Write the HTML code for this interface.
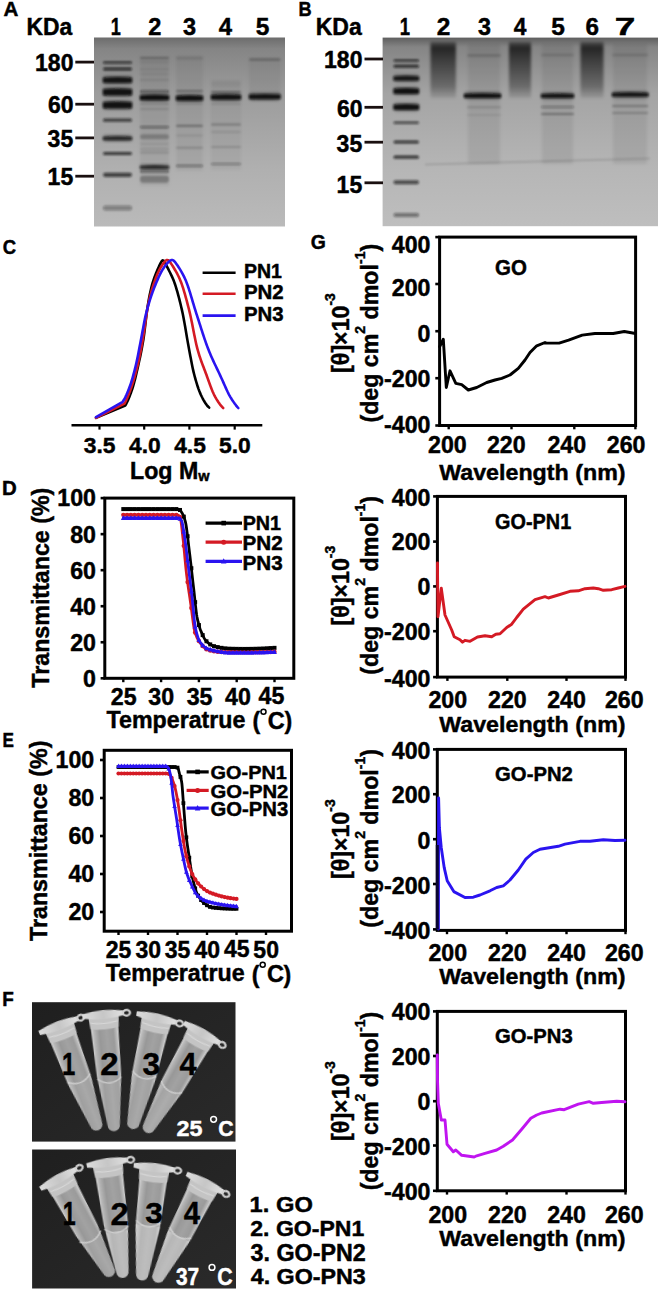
<!DOCTYPE html>
<html><head><meta charset="utf-8"><style>
html,body{margin:0;padding:0;background:#fff;}
svg{display:block;}
text{font-family:"Liberation Sans",sans-serif;font-weight:bold;stroke:#000;stroke-width:0.45px;}
</style></head><body>
<svg width="660" height="1291" viewBox="0 0 660 1291">
<rect width="660" height="1291" fill="#fff"/>
<defs>
<filter id="bl" x="-20%" y="-200%" width="140%" height="500%"><feGaussianBlur stdDeviation="0.95"/></filter>
<filter id="bl2" x="-20%" y="-50%" width="140%" height="200%"><feGaussianBlur stdDeviation="2.2"/></filter>
<filter id="bl3" x="-30%" y="-30%" width="160%" height="160%"><feGaussianBlur stdDeviation="1.5"/></filter>
<filter id="bl4" x="-40%" y="-40%" width="180%" height="180%"><feGaussianBlur stdDeviation="2.6"/></filter>
<linearGradient id="gelA" x1="0" y1="0" x2="0" y2="1">
<stop offset="0" stop-color="#6c6c6c"/><stop offset="0.06" stop-color="#858585"/><stop offset="0.3" stop-color="#9c9c9c"/><stop offset="0.7" stop-color="#b0b0b0"/><stop offset="1" stop-color="#bababa"/></linearGradient>
<linearGradient id="gelB" x1="0" y1="0" x2="0" y2="1">
<stop offset="0" stop-color="#5e5e5e"/><stop offset="0.05" stop-color="#858585"/><stop offset="0.3" stop-color="#a4a4a4"/><stop offset="0.7" stop-color="#b6b6b6"/><stop offset="1" stop-color="#bebebe"/></linearGradient>
<linearGradient id="smear" x1="0" y1="0" x2="0" y2="1">
<stop offset="0" stop-color="#000" stop-opacity="0.35"/><stop offset="0.1" stop-color="#000" stop-opacity="0.72"/><stop offset="0.35" stop-color="#000" stop-opacity="0.55"/><stop offset="0.8" stop-color="#000" stop-opacity="0.32"/><stop offset="1" stop-color="#000" stop-opacity="0.08"/></linearGradient>
</defs>
<rect x="94" y="37.5" width="191" height="189" fill="url(#gelA)"/>
<rect x="103.0" y="61.5" width="29.0" height="2.2" rx="1.1" fill="#111" fill-opacity="0.78" filter="url(#bl)"/>
<rect x="103.0" y="67.5" width="29.0" height="3.0" rx="1.5" fill="#111" fill-opacity="0.78" filter="url(#bl)"/>
<rect x="102.5" y="75.5" width="30.0" height="9.0" rx="4.0" fill="#111" fill-opacity="0.3" filter="url(#bl3)"/><path d="M103.0,77.8 Q117.5,76.4 132.0,77.8 L132.0,82.7 Q117.5,83.3 103.0,82.7 Z" fill="#111" fill-opacity="0.92" filter="url(#bl)"/>
<rect x="102.5" y="87.0" width="30.0" height="10.0" rx="4.0" fill="#111" fill-opacity="0.3" filter="url(#bl3)"/><path d="M103.0,89.3 Q117.5,87.9 132.0,89.3 L132.0,95.2 Q117.5,95.8 103.0,95.2 Z" fill="#111" fill-opacity="0.95" filter="url(#bl)"/>
<rect x="102.5" y="100.0" width="30.0" height="10.0" rx="4.0" fill="#111" fill-opacity="0.3" filter="url(#bl3)"/><path d="M103.0,102.3 Q117.5,100.9 132.0,102.3 L132.0,108.2 Q117.5,108.8 103.0,108.2 Z" fill="#111" fill-opacity="0.95" filter="url(#bl)"/>
<rect x="103.0" y="118.6" width="29.0" height="3.2" rx="1.6" fill="#111" fill-opacity="0.7" filter="url(#bl)"/>
<rect x="102.5" y="134.7" width="30.0" height="7.0" rx="3.5" fill="#111" fill-opacity="0.3" filter="url(#bl3)"/><path d="M103.0,137.0 Q117.5,135.6 132.0,137.0 L132.0,139.9 Q117.5,140.5 103.0,139.9 Z" fill="#111" fill-opacity="0.8" filter="url(#bl)"/>
<rect x="103.0" y="151.9" width="29.0" height="3.2" rx="1.6" fill="#111" fill-opacity="0.75" filter="url(#bl)"/>
<rect x="103.0" y="172.7" width="29.0" height="4.2" rx="2.1" fill="#111" fill-opacity="0.7" filter="url(#bl)"/>
<rect x="103.0" y="205.5" width="29.0" height="5.0" rx="2.5" fill="#111" fill-opacity="0.35" filter="url(#bl)"/>
<rect x="140" y="56" width="29" height="130" fill="#000" fill-opacity="0.06" filter="url(#bl3)"/>
<rect x="140.0" y="57.2" width="29.0" height="1.5" rx="0.8" fill="#111" fill-opacity="0.3" filter="url(#bl)"/>
<rect x="140.0" y="61.4" width="29.0" height="1.2" rx="0.6" fill="#111" fill-opacity="0.12" filter="url(#bl)"/>
<rect x="140.0" y="68.8" width="29.0" height="1.2" rx="0.6" fill="#111" fill-opacity="0.12" filter="url(#bl)"/>
<rect x="140.0" y="73.4" width="29.0" height="1.2" rx="0.6" fill="#111" fill-opacity="0.12" filter="url(#bl)"/>
<rect x="140.0" y="79.2" width="29.0" height="1.5" rx="0.8" fill="#111" fill-opacity="0.12" filter="url(#bl)"/>
<rect x="140.0" y="89.9" width="29.0" height="3.0" rx="1.5" fill="#111" fill-opacity="0.4" filter="url(#bl)"/>
<rect x="139.5" y="93.2" width="30.0" height="8.5" rx="4.0" fill="#111" fill-opacity="0.3" filter="url(#bl3)"/><path d="M140.0,95.5 Q154.5,94.1 169.0,95.5 L169.0,99.9 Q154.5,100.5 140.0,99.9 Z" fill="#111" fill-opacity="0.97" filter="url(#bl)"/>
<rect x="140.0" y="103.0" width="29.0" height="2.0" rx="1.0" fill="#111" fill-opacity="0.12" filter="url(#bl)"/>
<rect x="140.0" y="108.0" width="29.0" height="2.0" rx="1.0" fill="#111" fill-opacity="0.12" filter="url(#bl)"/>
<rect x="140.0" y="126.0" width="29.0" height="2.2" rx="1.1" fill="#111" fill-opacity="0.45" filter="url(#bl)"/>
<rect x="140.0" y="134.3" width="29.0" height="5.0" rx="2.5" fill="#111" fill-opacity="0.22" filter="url(#bl)"/>
<rect x="140.0" y="143.0" width="29.0" height="2.0" rx="1.0" fill="#111" fill-opacity="0.08" filter="url(#bl)"/>
<rect x="140.0" y="148.0" width="29.0" height="2.0" rx="1.0" fill="#111" fill-opacity="0.1" filter="url(#bl)"/>
<rect x="140.0" y="151.6" width="29.0" height="2.0" rx="1.0" fill="#111" fill-opacity="0.15" filter="url(#bl)"/>
<rect x="139.5" y="164.0" width="30.0" height="6.2" rx="3.1" fill="#111" fill-opacity="0.3" filter="url(#bl3)"/><path d="M140.0,166.3 Q154.5,164.9 169.0,166.3 L169.0,168.4 Q154.5,169.0 140.0,168.4 Z" fill="#111" fill-opacity="0.85" filter="url(#bl)"/>
<rect x="140.0" y="169.9" width="29.0" height="3.0" rx="1.5" fill="#111" fill-opacity="0.4" filter="url(#bl)"/>
<rect x="140.0" y="175.7" width="29.0" height="7.0" rx="3.0" fill="#111" fill-opacity="0.28" filter="url(#bl)"/>
<rect x="176" y="56" width="27" height="115" fill="#000" fill-opacity="0.05" filter="url(#bl3)"/>
<rect x="176.0" y="56.5" width="27.0" height="3.0" rx="1.5" fill="#111" fill-opacity="0.1" filter="url(#bl)"/>
<rect x="176.0" y="90.0" width="27.0" height="2.0" rx="1.0" fill="#111" fill-opacity="0.3" filter="url(#bl)"/>
<rect x="175.5" y="93.8" width="28.0" height="8.5" rx="4.0" fill="#111" fill-opacity="0.3" filter="url(#bl3)"/><path d="M176.0,96.0 Q189.5,94.7 203.0,96.0 L203.0,100.5 Q189.5,101.0 176.0,100.5 Z" fill="#111" fill-opacity="0.97" filter="url(#bl)"/>
<rect x="176.0" y="103.0" width="27.0" height="2.0" rx="1.0" fill="#111" fill-opacity="0.1" filter="url(#bl)"/>
<rect x="176.0" y="124.8" width="27.0" height="2.2" rx="1.1" fill="#111" fill-opacity="0.3" filter="url(#bl)"/>
<rect x="176.0" y="134.6" width="27.0" height="2.0" rx="1.0" fill="#111" fill-opacity="0.1" filter="url(#bl)"/>
<rect x="176.0" y="146.7" width="27.0" height="2.0" rx="1.0" fill="#111" fill-opacity="0.18" filter="url(#bl)"/>
<rect x="176.0" y="164.8" width="27.0" height="2.2" rx="1.1" fill="#111" fill-opacity="0.4" filter="url(#bl)"/>
<rect x="211" y="80" width="30" height="90" fill="#000" fill-opacity="0.04" filter="url(#bl3)"/>
<rect x="211.0" y="81.0" width="30.0" height="6.0" rx="3.0" fill="#111" fill-opacity="0.04" filter="url(#bl)"/>
<rect x="211.0" y="91.0" width="30.0" height="2.0" rx="1.0" fill="#111" fill-opacity="0.3" filter="url(#bl)"/>
<rect x="210.5" y="92.8" width="31.0" height="8.5" rx="4.0" fill="#111" fill-opacity="0.3" filter="url(#bl3)"/><path d="M211.0,95.0 Q226.0,93.7 241.0,95.0 L241.0,99.5 Q226.0,100.0 211.0,99.5 Z" fill="#111" fill-opacity="0.95" filter="url(#bl)"/>
<rect x="211.0" y="103.0" width="30.0" height="2.0" rx="1.0" fill="#111" fill-opacity="0.1" filter="url(#bl)"/>
<rect x="211.0" y="123.5" width="30.0" height="2.0" rx="1.0" fill="#111" fill-opacity="0.25" filter="url(#bl)"/>
<rect x="211.0" y="131.0" width="30.0" height="2.0" rx="1.0" fill="#111" fill-opacity="0.1" filter="url(#bl)"/>
<rect x="211.0" y="146.0" width="30.0" height="2.0" rx="1.0" fill="#111" fill-opacity="0.15" filter="url(#bl)"/>
<rect x="211.0" y="162.9" width="30.0" height="2.2" rx="1.1" fill="#111" fill-opacity="0.35" filter="url(#bl)"/>
<rect x="249" y="58" width="31.5" height="40" fill="#000" fill-opacity="0.05" filter="url(#bl3)"/>
<rect x="249.0" y="58.0" width="31.5" height="3.0" rx="1.5" fill="#111" fill-opacity="0.2" filter="url(#bl)"/>
<rect x="248.5" y="92.3" width="32.5" height="8.5" rx="4.0" fill="#111" fill-opacity="0.3" filter="url(#bl3)"/><path d="M249.0,94.6 Q264.8,93.2 280.5,94.6 L280.5,99.0 Q264.8,99.6 249.0,99.0 Z" fill="#111" fill-opacity="0.95" filter="url(#bl)"/>
<rect x="382.6" y="37.6" width="275.4" height="188.6" fill="url(#gelB)"/>
<rect x="393.5" y="59.5" width="25.5" height="2.2" rx="1.1" fill="#111" fill-opacity="0.78" filter="url(#bl)"/>
<rect x="393.5" y="64.8" width="25.5" height="3.0" rx="1.5" fill="#111" fill-opacity="0.78" filter="url(#bl)"/>
<rect x="393.0" y="74.2" width="26.5" height="8.0" rx="4.0" fill="#111" fill-opacity="0.3" filter="url(#bl3)"/><path d="M393.5,76.5 Q406.2,75.1 419.0,76.5 L419.0,80.4 Q406.2,81.0 393.5,80.4 Z" fill="#111" fill-opacity="0.9" filter="url(#bl)"/>
<rect x="393.0" y="86.5" width="26.5" height="9.0" rx="4.0" fill="#111" fill-opacity="0.3" filter="url(#bl3)"/><path d="M393.5,88.8 Q406.2,87.4 419.0,88.8 L419.0,93.7 Q406.2,94.3 393.5,93.7 Z" fill="#111" fill-opacity="0.95" filter="url(#bl)"/>
<rect x="393.0" y="102.5" width="26.5" height="9.0" rx="4.0" fill="#111" fill-opacity="0.3" filter="url(#bl3)"/><path d="M393.5,104.8 Q406.2,103.4 419.0,104.8 L419.0,109.7 Q406.2,110.3 393.5,109.7 Z" fill="#111" fill-opacity="0.95" filter="url(#bl)"/>
<rect x="393.5" y="121.5" width="25.5" height="2.5" rx="1.2" fill="#111" fill-opacity="0.65" filter="url(#bl)"/>
<rect x="393.5" y="140.4" width="25.5" height="3.2" rx="1.6" fill="#111" fill-opacity="0.75" filter="url(#bl)"/>
<rect x="393.5" y="155.6" width="25.5" height="3.2" rx="1.6" fill="#111" fill-opacity="0.75" filter="url(#bl)"/>
<rect x="393.5" y="180.3" width="25.5" height="4.0" rx="2.0" fill="#111" fill-opacity="0.65" filter="url(#bl)"/>
<rect x="393.5" y="213.0" width="25.5" height="4.0" rx="2.0" fill="#111" fill-opacity="0.45" filter="url(#bl)"/>
<rect x="430.5" y="42" width="25.399999999999977" height="56" fill="url(#smear)" filter="url(#bl3)"/>
<rect x="509.0" y="42" width="22.0" height="56" fill="url(#smear)" filter="url(#bl3)"/>
<rect x="580.5" y="42" width="23" height="56" fill="url(#smear)" filter="url(#bl3)"/>
<rect x="468" y="44" width="32" height="120" fill="#000" fill-opacity="0.07" filter="url(#bl3)"/>
<rect x="467.0" y="54.0" width="34.0" height="3.0" rx="1.5" fill="#111" fill-opacity="0.15" filter="url(#bl)"/>
<rect x="463.5" y="91.6" width="38.0" height="8.0" rx="4.0" fill="#111" fill-opacity="0.3" filter="url(#bl3)"/><path d="M464.0,93.9 Q482.5,92.5 501.0,93.9 L501.0,97.8 Q482.5,98.4 464.0,97.8 Z" fill="#111" fill-opacity="0.97" filter="url(#bl)"/>
<rect x="467.0" y="106.3" width="34.0" height="2.0" rx="1.0" fill="#111" fill-opacity="0.15" filter="url(#bl)"/>
<rect x="467.0" y="114.0" width="34.0" height="2.0" rx="1.0" fill="#111" fill-opacity="0.08" filter="url(#bl)"/>
<rect x="542" y="44" width="31" height="120" fill="#000" fill-opacity="0.07" filter="url(#bl3)"/>
<rect x="541.0" y="53.5" width="33.0" height="3.0" rx="1.5" fill="#111" fill-opacity="0.12" filter="url(#bl)"/>
<rect x="540.5" y="92.0" width="34.0" height="7.5" rx="3.8" fill="#111" fill-opacity="0.3" filter="url(#bl3)"/><path d="M541.0,94.2 Q557.5,92.9 574.0,94.2 L574.0,97.7 Q557.5,98.2 541.0,97.7 Z" fill="#111" fill-opacity="0.93" filter="url(#bl)"/>
<rect x="541.0" y="106.0" width="33.0" height="2.0" rx="1.0" fill="#111" fill-opacity="0.35" filter="url(#bl)"/>
<rect x="541.0" y="113.0" width="33.0" height="2.0" rx="1.0" fill="#111" fill-opacity="0.3" filter="url(#bl)"/>
<rect x="613" y="44" width="34" height="120" fill="#000" fill-opacity="0.07" filter="url(#bl3)"/>
<rect x="612.0" y="53.5" width="36.4" height="3.0" rx="1.5" fill="#111" fill-opacity="0.12" filter="url(#bl)"/>
<rect x="611.5" y="90.8" width="37.4" height="7.5" rx="3.8" fill="#111" fill-opacity="0.3" filter="url(#bl3)"/><path d="M612.0,93.0 Q630.2,91.7 648.4,93.0 L648.4,96.5 Q630.2,97.0 612.0,96.5 Z" fill="#111" fill-opacity="0.93" filter="url(#bl)"/>
<rect x="612.0" y="105.0" width="36.4" height="2.0" rx="1.0" fill="#111" fill-opacity="0.25" filter="url(#bl)"/>
<rect x="612.0" y="112.0" width="36.4" height="2.0" rx="1.0" fill="#111" fill-opacity="0.2" filter="url(#bl)"/>
<path d="M425,164.5 L650,158.5" stroke="#000" stroke-opacity="0.15" stroke-width="1.6" fill="none" filter="url(#bl)"/>
<text transform="translate(3.90,15.90) scale(1.041,1)" x="-0.49" font-size="19.78" fill="#000" >A</text>
<text transform="translate(28.00,34.97) scale(0.979,1)" x="-1.58" font-size="23.37" fill="#000" >KDa</text>
<text transform="translate(111.80,35.10) scale(0.735,1)" x="-1.54" font-size="24.58" fill="#000" >1</text>
<text transform="translate(149.10,35.10) scale(0.975,1)" x="-0.85" font-size="24.23" fill="#000" >2</text>
<text transform="translate(183.50,34.80) scale(0.988,1)" x="-0.54" font-size="23.80" fill="#000" >3</text>
<text transform="translate(219.00,35.10) scale(0.973,1)" x="-0.37" font-size="24.58" fill="#000" >4</text>
<text transform="translate(256.40,34.86) scale(1.012,1)" x="-0.73" font-size="24.23" fill="#000" >5</text>
<text x="35.07" y="71.22" font-size="23.0" fill="#000">180</text>
<line x1="75.30" y1="62.10" x2="94.00" y2="62.10" stroke="#1a1010" stroke-width="2.8" stroke-linecap="butt"/>
<text x="47.89" y="113.02" font-size="23.0" fill="#000">60</text>
<line x1="75.30" y1="104.20" x2="94.00" y2="104.20" stroke="#1a1010" stroke-width="2.8" stroke-linecap="butt"/>
<text x="47.60" y="146.72" font-size="23.0" fill="#000">35</text>
<line x1="75.30" y1="137.90" x2="94.00" y2="137.90" stroke="#1a1010" stroke-width="2.8" stroke-linecap="butt"/>
<text x="47.60" y="184.91" font-size="23.0" fill="#000">15</text>
<line x1="75.30" y1="176.20" x2="94.00" y2="176.20" stroke="#1a1010" stroke-width="2.8" stroke-linecap="butt"/>
<text transform="translate(299.80,15.90) scale(0.900,1)" x="-1.36" font-size="20.22" fill="#000" >B</text>
<text transform="translate(317.20,35.06) scale(0.968,1)" x="-1.61" font-size="23.80" fill="#000" >KDa</text>
<text transform="translate(400.90,35.10) scale(0.752,1)" x="-1.54" font-size="24.58" fill="#000" >1</text>
<text transform="translate(437.70,35.10) scale(1.009,1)" x="-0.85" font-size="24.23" fill="#000" >2</text>
<text transform="translate(478.60,34.80) scale(0.980,1)" x="-0.54" font-size="23.80" fill="#000" >3</text>
<text transform="translate(514.00,35.10) scale(0.928,1)" x="-0.37" font-size="24.58" fill="#000" >4</text>
<text transform="translate(552.00,34.86) scale(1.012,1)" x="-0.73" font-size="24.23" fill="#000" >5</text>
<text transform="translate(586.50,34.86) scale(1.015,1)" x="-0.90" font-size="23.89" fill="#000" >6</text>
<text transform="translate(616.40,35.10) scale(1.506,1)" x="-1.04" font-size="24.58" fill="#000" >7</text>
<text x="324.07" y="68.12" font-size="23.0" fill="#000">180</text>
<line x1="364.50" y1="59.00" x2="383.00" y2="59.00" stroke="#1a1010" stroke-width="2.8" stroke-linecap="butt"/>
<text x="336.89" y="116.62" font-size="23.0" fill="#000">60</text>
<line x1="364.50" y1="107.30" x2="383.00" y2="107.30" stroke="#1a1010" stroke-width="2.8" stroke-linecap="butt"/>
<text x="336.60" y="151.52" font-size="23.0" fill="#000">35</text>
<line x1="364.50" y1="142.20" x2="383.00" y2="142.20" stroke="#1a1010" stroke-width="2.8" stroke-linecap="butt"/>
<text x="336.60" y="192.61" font-size="23.0" fill="#000">15</text>
<line x1="364.50" y1="182.80" x2="383.00" y2="182.80" stroke="#1a1010" stroke-width="2.8" stroke-linecap="butt"/>
<text transform="translate(3.60,253.50) scale(0.927,1)" x="-0.80" font-size="19.93" fill="#000" >C</text>
<line x1="71.50" y1="425.20" x2="262.30" y2="425.20" stroke="#000" stroke-width="2.6" stroke-linecap="butt"/>
<line x1="99.50" y1="425.00" x2="99.50" y2="429.60" stroke="#000" stroke-width="2.2" stroke-linecap="butt"/>
<line x1="144.20" y1="425.00" x2="144.20" y2="429.60" stroke="#000" stroke-width="2.2" stroke-linecap="butt"/>
<line x1="189.40" y1="425.00" x2="189.40" y2="429.60" stroke="#000" stroke-width="2.2" stroke-linecap="butt"/>
<line x1="234.70" y1="425.00" x2="234.70" y2="429.60" stroke="#000" stroke-width="2.2" stroke-linecap="butt"/>
<text x="83.71" y="453.10" font-size="22.8" fill="#000">3.5</text>
<text x="129.04" y="453.10" font-size="22.8" fill="#000">4.0</text>
<text x="174.20" y="452.88" font-size="22.8" fill="#000">4.5</text>
<text x="218.97" y="453.10" font-size="22.8" fill="#000">5.0</text>
<text x="130" y="478.8" font-size="23.2">Log M<tspan font-size="14.5" dy="2.6">w</tspan></text>
<path d="M96.00,417.80 L125.20,405.50 L126.25,403.72 L127.14,401.98 L127.98,400.18 L128.77,398.35 L129.52,396.49 L130.23,394.62 L130.92,392.74 L131.58,390.85 L132.22,388.96 L132.84,387.05 L133.42,385.14 L133.96,383.21 L134.48,381.28 L134.98,379.34 L135.46,377.40 L135.93,375.45 L136.39,373.50 L136.84,371.55 L137.28,369.60 L137.73,367.65 L138.16,365.69 L138.60,363.74 L139.03,361.79 L139.46,359.83 L139.89,357.88 L140.31,355.92 L140.71,353.96 L141.11,352.00 L141.50,350.03 L141.87,348.07 L142.24,346.10 L142.59,344.13 L142.93,342.15 L143.25,340.18 L143.56,338.20 L143.85,336.22 L144.12,334.24 L144.37,332.25 L144.62,330.26 L144.87,328.28 L145.10,326.29 L145.34,324.30 L145.57,322.31 L145.81,320.33 L146.04,318.34 L146.29,316.35 L146.53,314.36 L146.79,312.38 L147.06,310.40 L147.34,308.41 L147.65,306.44 L147.97,304.46 L148.31,302.49 L148.66,300.52 L149.02,298.55 L149.40,296.58 L149.78,294.62 L150.19,292.66 L150.62,290.70 L151.07,288.75 L151.55,286.81 L152.06,284.88 L152.62,282.95 L153.21,281.04 L153.84,279.14 L154.51,277.26 L155.21,275.38 L155.95,273.52 L156.70,271.67 L157.48,269.82 L158.28,267.99 L159.10,266.16 L159.96,264.35 L160.85,262.60 L161.78,261.09 L162.74,260.35 L163.70,260.80 L164.64,262.16 L165.57,263.87 L166.49,265.64 L167.40,267.42 L168.31,269.21 L169.23,270.99 L170.14,272.77 L171.04,274.56 L171.90,276.36 L172.72,278.19 L173.48,280.04 L174.18,281.91 L174.85,283.80 L175.48,285.70 L176.09,287.60 L176.67,289.52 L177.23,291.44 L177.77,293.37 L178.30,295.30 L178.81,297.23 L179.31,299.17 L179.80,301.11 L180.28,303.06 L180.75,305.00 L181.21,306.95 L181.67,308.90 L182.11,310.85 L182.53,312.81 L182.94,314.77 L183.33,316.73 L183.70,318.70 L184.07,320.67 L184.42,322.64 L184.77,324.61 L185.12,326.58 L185.45,328.55 L185.79,330.53 L186.12,332.50 L186.46,334.47 L186.79,336.45 L187.13,338.42 L187.47,340.39 L187.81,342.37 L188.16,344.34 L188.52,346.31 L188.88,348.28 L189.25,350.24 L189.62,352.21 L189.99,354.18 L190.36,356.15 L190.73,358.11 L191.10,360.08 L191.48,362.05 L191.86,364.01 L192.25,365.97 L192.66,367.93 L193.09,369.89 L193.54,371.84 L194.01,373.78 L194.52,375.72 L195.04,377.65 L195.58,379.58 L196.14,381.50 L196.72,383.42 L197.31,385.33 L197.94,387.23 L198.59,389.12 L199.29,391.00 L200.03,392.86 L200.83,394.69 L201.69,396.50 L202.60,398.28 L203.56,400.04 L204.56,401.76 L205.64,403.44 L206.78,405.05 L208.03,406.55 L209.20,407.60" fill="none" stroke="#000" stroke-width="2.6" stroke-linejoin="round" stroke-linecap="round" />
<path d="M96.00,417.80 L124.50,403.60 L125.46,401.77 L126.30,400.01 L127.12,398.20 L127.90,396.36 L128.66,394.50 L129.39,392.64 L130.09,390.76 L130.77,388.88 L131.44,386.99 L132.09,385.10 L132.71,383.20 L133.31,381.29 L133.89,379.37 L134.46,377.45 L135.00,375.52 L135.52,373.59 L136.04,371.66 L136.54,369.72 L137.02,367.78 L137.50,365.83 L137.96,363.88 L138.41,361.93 L138.84,359.98 L139.26,358.02 L139.67,356.06 L140.07,354.10 L140.45,352.13 L140.83,350.17 L141.20,348.20 L141.57,346.23 L141.93,344.26 L142.29,342.29 L142.63,340.32 L142.97,338.35 L143.29,336.37 L143.61,334.39 L143.91,332.41 L144.20,330.43 L144.49,328.45 L144.78,326.47 L145.06,324.49 L145.34,322.51 L145.63,320.52 L145.91,318.54 L146.20,316.56 L146.50,314.58 L146.80,312.60 L147.12,310.63 L147.45,308.65 L147.80,306.68 L148.18,304.71 L148.58,302.75 L149.01,300.80 L149.46,298.85 L149.93,296.90 L150.41,294.96 L150.92,293.02 L151.46,291.09 L152.02,289.17 L152.61,287.26 L153.23,285.36 L153.87,283.46 L154.53,281.57 L155.21,279.69 L155.92,277.81 L156.65,275.95 L157.42,274.10 L158.24,272.27 L159.10,270.47 L160.03,268.70 L161.03,266.97 L162.09,265.27 L163.21,263.62 L164.41,262.04 L165.69,260.68 L167.03,259.93 L168.32,260.21 L169.54,261.37 L170.68,262.94 L171.78,264.60 L172.85,266.30 L173.89,268.00 L174.91,269.73 L175.91,271.46 L176.89,273.21 L177.82,274.98 L178.71,276.77 L179.55,278.59 L180.33,280.43 L181.07,282.29 L181.76,284.17 L182.41,286.06 L183.03,287.97 L183.63,289.88 L184.20,291.79 L184.77,293.71 L185.31,295.64 L185.85,297.57 L186.38,299.50 L186.90,301.44 L187.41,303.37 L187.91,305.31 L188.41,307.25 L188.91,309.19 L189.39,311.13 L189.86,313.08 L190.30,315.03 L190.73,316.98 L191.14,318.94 L191.55,320.90 L191.94,322.87 L192.33,324.83 L192.72,326.80 L193.10,328.76 L193.48,330.73 L193.87,332.69 L194.26,334.65 L194.65,336.62 L195.05,338.58 L195.46,340.54 L195.88,342.50 L196.32,344.45 L196.79,346.40 L197.28,348.34 L197.80,350.27 L198.36,352.19 L198.94,354.11 L199.54,356.02 L200.17,357.92 L200.82,359.81 L201.49,361.70 L202.18,363.58 L202.88,365.45 L203.59,367.33 L204.30,369.20 L205.01,371.07 L205.72,372.94 L206.42,374.82 L207.10,376.70 L207.78,378.58 L208.45,380.47 L209.13,382.35 L209.81,384.24 L210.49,386.12 L211.20,387.99 L211.93,389.85 L212.70,391.70 L213.52,393.53 L214.40,395.32 L215.34,397.09 L216.33,398.83 L217.37,400.54 L218.45,402.22 L219.59,403.86 L220.79,405.43 L222.07,406.91 L223.20,408.00" fill="none" stroke="#d41a24" stroke-width="2.6" stroke-linejoin="round" stroke-linecap="round" />
<path d="M96.00,417.20 L122.70,401.80 L123.80,400.05 L124.74,398.34 L125.63,396.56 L126.47,394.75 L127.27,392.92 L128.04,391.07 L128.77,389.20 L129.49,387.33 L130.17,385.45 L130.82,383.56 L131.44,381.66 L132.03,379.74 L132.59,377.82 L133.13,375.89 L133.65,373.96 L134.16,372.02 L134.66,370.08 L135.14,368.14 L135.61,366.19 L136.07,364.25 L136.52,362.29 L136.95,360.34 L137.36,358.38 L137.75,356.41 L138.14,354.45 L138.52,352.48 L138.90,350.52 L139.27,348.55 L139.64,346.58 L140.01,344.62 L140.39,342.65 L140.77,340.68 L141.15,338.72 L141.52,336.75 L141.89,334.78 L142.25,332.81 L142.61,330.84 L142.98,328.87 L143.34,326.90 L143.71,324.94 L144.08,322.97 L144.46,321.00 L144.86,319.04 L145.28,317.08 L145.72,315.13 L146.18,313.18 L146.67,311.24 L147.18,309.31 L147.71,307.37 L148.26,305.45 L148.82,303.53 L149.39,301.61 L149.99,299.70 L150.60,297.79 L151.24,295.89 L151.89,294.00 L152.56,292.11 L153.26,290.23 L153.97,288.36 L154.70,286.50 L155.46,284.65 L156.23,282.80 L157.01,280.96 L157.81,279.12 L158.63,277.30 L159.48,275.48 L160.37,273.69 L161.29,271.91 L162.27,270.17 L163.33,268.47 L164.46,266.82 L165.67,265.23 L166.94,263.68 L168.28,262.21 L169.71,260.90 L171.20,260.01 L172.66,259.97 L174.00,260.86 L175.25,262.30 L176.42,263.90 L177.56,265.55 L178.65,267.22 L179.72,268.91 L180.76,270.63 L181.76,272.36 L182.72,274.11 L183.64,275.89 L184.52,277.69 L185.35,279.51 L186.13,281.36 L186.86,283.22 L187.55,285.10 L188.21,286.99 L188.84,288.89 L189.45,290.80 L190.05,292.71 L190.63,294.62 L191.21,296.54 L191.78,298.46 L192.35,300.38 L192.92,302.30 L193.49,304.22 L194.06,306.14 L194.64,308.05 L195.23,309.97 L195.83,311.88 L196.44,313.78 L197.05,315.69 L197.67,317.60 L198.28,319.50 L198.89,321.41 L199.50,323.31 L200.11,325.22 L200.72,327.13 L201.34,329.04 L201.95,330.94 L202.57,332.84 L203.19,334.75 L203.82,336.65 L204.46,338.55 L205.11,340.44 L205.77,342.33 L206.44,344.22 L207.13,346.10 L207.83,347.97 L208.55,349.84 L209.30,351.70 L210.06,353.55 L210.85,355.39 L211.65,357.23 L212.46,359.06 L213.29,360.88 L214.14,362.69 L214.99,364.51 L215.85,366.31 L216.71,368.12 L217.58,369.92 L218.45,371.73 L219.31,373.54 L220.16,375.35 L221.00,377.17 L221.83,378.99 L222.65,380.82 L223.46,382.65 L224.27,384.48 L225.08,386.31 L225.90,388.14 L226.74,389.95 L227.59,391.76 L228.49,393.56 L229.42,395.32 L230.41,397.07 L231.44,398.78 L232.52,400.46 L233.65,402.12 L234.81,403.75 L236.00,405.32 L237.24,406.83 L238.30,408.00" fill="none" stroke="#2a14f0" stroke-width="2.6" stroke-linejoin="round" stroke-linecap="round" />
<line x1="202.60" y1="272.70" x2="235.60" y2="272.70" stroke="#000" stroke-width="2.6" stroke-linecap="butt"/>
<text transform="translate(245.30,277.70) scale(0.986,1)" x="-1.34" font-size="19.78" fill="#000" >PN1</text>
<line x1="202.60" y1="293.80" x2="235.60" y2="293.80" stroke="#d41a24" stroke-width="2.6" stroke-linecap="butt"/>
<text transform="translate(245.30,299.20) scale(1.025,1)" x="-1.35" font-size="19.93" fill="#000" >PN2</text>
<line x1="202.60" y1="315.60" x2="235.60" y2="315.60" stroke="#2a14f0" stroke-width="2.6" stroke-linecap="butt"/>
<text transform="translate(245.30,320.65) scale(1.006,1)" x="-1.37" font-size="20.28" fill="#000" >PN3</text>
<text transform="translate(3.40,494.60) scale(1.032,1)" x="-1.34" font-size="19.78" fill="#000" >D</text>
<rect x="104.8" y="498.1" width="189" height="180.2" fill="none" stroke="#000" stroke-width="3"/>
<line x1="100.60" y1="678.30" x2="104.80" y2="678.30" stroke="#000" stroke-width="2.6" stroke-linecap="butt"/>
<text x="83.05" y="686.69" font-size="23.2" fill="#000">0</text>
<line x1="100.60" y1="642.26" x2="104.80" y2="642.26" stroke="#000" stroke-width="2.6" stroke-linecap="butt"/>
<text x="70.18" y="650.65" font-size="23.2" fill="#000">20</text>
<line x1="100.60" y1="606.22" x2="104.80" y2="606.22" stroke="#000" stroke-width="2.6" stroke-linecap="butt"/>
<text x="70.18" y="614.61" font-size="23.2" fill="#000">40</text>
<line x1="100.60" y1="570.18" x2="104.80" y2="570.18" stroke="#000" stroke-width="2.6" stroke-linecap="butt"/>
<text x="70.18" y="578.57" font-size="23.2" fill="#000">60</text>
<line x1="100.60" y1="534.14" x2="104.80" y2="534.14" stroke="#000" stroke-width="2.6" stroke-linecap="butt"/>
<text x="70.18" y="542.53" font-size="23.2" fill="#000">80</text>
<line x1="100.60" y1="498.10" x2="104.80" y2="498.10" stroke="#000" stroke-width="2.6" stroke-linecap="butt"/>
<text x="57.24" y="506.49" font-size="23.2" fill="#000">100</text>
<line x1="123.30" y1="678.30" x2="123.30" y2="682.20" stroke="#000" stroke-width="2.4" stroke-linecap="butt"/>
<text x="110.79" y="704.58" font-size="23.2" fill="#000">25</text>
<line x1="161.10" y1="678.30" x2="161.10" y2="682.20" stroke="#000" stroke-width="2.4" stroke-linecap="butt"/>
<text x="148.33" y="704.58" font-size="23.2" fill="#000">30</text>
<line x1="198.90" y1="678.30" x2="198.90" y2="682.20" stroke="#000" stroke-width="2.4" stroke-linecap="butt"/>
<text x="186.68" y="704.58" font-size="23.2" fill="#000">35</text>
<line x1="236.70" y1="678.30" x2="236.70" y2="682.20" stroke="#000" stroke-width="2.4" stroke-linecap="butt"/>
<text x="225.11" y="704.58" font-size="23.2" fill="#000">40</text>
<line x1="274.50" y1="678.30" x2="274.50" y2="682.20" stroke="#000" stroke-width="2.4" stroke-linecap="butt"/>
<text x="258.57" y="704.35" font-size="23.2" fill="#000">45</text>
<text transform="translate(48.74,687.50) rotate(-90) scale(0.972,1)" x="-0.24" font-size="23.91" fill="#000">Transmittance (%)</text>
<text transform="translate(106.80,728.20) scale(1.004,1)" x="-0.23" font-size="23.13" fill="#000" >Temperatrue</text>
<text x="252.6" y="728.7" font-size="23.2">(</text>
<circle cx="263.5" cy="711.8" r="2.5" fill="none" stroke="#000" stroke-width="1.5"/>
<text transform="translate(268.75,728.76) scale(0.976,1)" x="-0.97" font-size="24.17" fill="#000" >C</text>
<text x="284.6" y="728.7" font-size="23.2">)</text>
<path d="M123.30,509.09 L123.68,509.09 L124.06,509.09 L124.43,509.09 L124.81,509.09 L125.19,509.09 L125.57,509.09 L125.95,509.09 L126.32,509.09 L126.70,509.09 L127.08,509.09 L127.46,509.09 L127.84,509.09 L128.21,509.09 L128.59,509.09 L128.97,509.09 L129.35,509.09 L129.73,509.09 L130.10,509.09 L130.48,509.09 L130.86,509.09 L131.24,509.09 L131.62,509.09 L131.99,509.09 L132.37,509.09 L132.75,509.09 L133.13,509.09 L133.51,509.09 L133.88,509.09 L134.26,509.09 L134.64,509.09 L135.02,509.09 L135.40,509.09 L135.77,509.09 L136.15,509.09 L136.53,509.09 L136.91,509.09 L137.29,509.09 L137.66,509.09 L138.04,509.09 L138.42,509.09 L138.80,509.09 L139.18,509.09 L139.55,509.09 L139.93,509.09 L140.31,509.09 L140.69,509.09 L141.07,509.09 L141.44,509.09 L141.82,509.09 L142.20,509.09 L142.58,509.09 L142.96,509.09 L143.33,509.09 L143.71,509.09 L144.09,509.09 L144.47,509.09 L144.85,509.09 L145.22,509.09 L145.60,509.09 L145.98,509.09 L146.36,509.09 L146.74,509.09 L147.11,509.09 L147.49,509.09 L147.87,509.09 L148.25,509.09 L148.63,509.09 L149.00,509.09 L149.38,509.09 L149.76,509.09 L150.14,509.09 L150.52,509.09 L150.89,509.09 L151.27,509.09 L151.65,509.09 L152.03,509.09 L152.41,509.09 L152.78,509.09 L153.16,509.09 L153.54,509.09 L153.92,509.09 L154.30,509.09 L154.67,509.09 L155.05,509.09 L155.43,509.09 L155.81,509.09 L156.19,509.09 L156.56,509.09 L156.94,509.09 L157.32,509.09 L157.70,509.09 L158.08,509.09 L158.45,509.09 L158.83,509.09 L159.21,509.09 L159.59,509.09 L159.97,509.09 L160.34,509.09 L160.72,509.09 L161.10,509.09 L161.48,509.09 L161.86,509.09 L162.23,509.09 L162.61,509.09 L162.99,509.09 L163.37,509.09 L163.75,509.09 L164.12,509.09 L164.50,509.09 L164.88,509.09 L165.26,509.09 L165.64,509.09 L166.01,509.09 L166.39,509.09 L166.77,509.09 L167.15,509.09 L167.53,509.09 L167.90,509.09 L168.28,509.09 L168.66,509.09 L169.04,509.09 L169.42,509.09 L169.79,509.09 L170.17,509.09 L170.55,509.09 L170.93,509.09 L171.31,509.09 L171.68,509.09 L172.06,509.09 L172.44,509.09 L172.82,509.09 L173.20,509.09 L173.57,509.09 L173.95,509.09 L174.33,509.09 L174.71,509.09 L175.09,509.09 L175.46,509.09 L175.84,509.09 L176.22,509.09 L176.60,509.10 L176.98,509.12 L177.35,509.15 L177.73,509.20 L178.11,509.25 L178.49,509.31 L178.87,509.39 L179.24,509.47 L179.62,509.66 L180.00,509.97 L180.38,510.39 L180.76,510.90 L181.13,511.48 L181.51,512.11 L181.89,512.76 L182.27,513.42 L182.65,514.10 L183.02,514.86 L183.40,515.71 L183.78,516.64 L184.16,517.66 L184.54,518.80 L184.91,520.05 L185.29,521.42 L185.67,523.03 L186.05,525.07 L186.43,527.48 L186.80,530.19 L187.18,533.14 L187.56,536.25 L187.94,539.46 L188.32,542.71 L188.69,545.92 L189.07,549.03 L189.45,552.07 L189.83,555.19 L190.21,558.37 L190.58,561.62 L190.96,564.91 L191.34,568.24 L191.72,571.58 L192.10,574.92 L192.47,578.25 L192.85,581.56 L193.23,584.82 L193.61,588.06 L193.99,591.45 L194.36,594.98 L194.74,598.57 L195.12,602.14 L195.50,605.61 L195.88,608.90 L196.25,611.95 L196.63,614.66 L197.01,616.96 L197.39,618.85 L197.77,620.58 L198.14,622.19 L198.52,623.68 L198.90,625.06 L199.28,626.35 L199.66,627.55 L200.03,628.67 L200.41,629.72 L200.79,630.70 L201.17,631.64 L201.55,632.54 L201.92,633.43 L202.30,634.28 L202.68,635.11 L203.06,635.91 L203.44,636.67 L203.81,637.40 L204.19,638.09 L204.57,638.74 L204.95,639.34 L205.33,639.90 L205.70,640.42 L206.08,640.88 L206.46,641.28 L206.84,641.65 L207.22,642.01 L207.59,642.35 L207.97,642.68 L208.35,643.00 L208.73,643.31 L209.11,643.60 L209.48,643.89 L209.86,644.16 L210.24,644.41 L210.62,644.66 L211.00,644.89 L211.37,645.10 L211.75,645.31 L212.13,645.49 L212.51,645.67 L212.89,645.82 L213.26,645.97 L213.64,646.09 L214.02,646.20 L214.40,646.30 L214.78,646.40 L215.15,646.50 L215.53,646.59 L215.91,646.68 L216.29,646.77 L216.67,646.86 L217.04,646.95 L217.42,647.04 L217.80,647.12 L218.18,647.20 L218.56,647.28 L218.93,647.36 L219.31,647.43 L219.69,647.51 L220.07,647.58 L220.45,647.65 L220.82,647.72 L221.20,647.78 L221.58,647.85 L221.96,647.91 L222.34,647.97 L222.71,648.02 L223.09,648.08 L223.47,648.13 L223.85,648.19 L224.23,648.24 L224.60,648.28 L224.98,648.33 L225.36,648.37 L225.74,648.41 L226.12,648.45 L226.49,648.49 L226.87,648.52 L227.25,648.55 L227.63,648.58 L228.01,648.61 L228.38,648.64 L228.76,648.66 L229.14,648.68 L229.52,648.70 L229.90,648.72 L230.27,648.73 L230.65,648.74 L231.03,648.75 L231.41,648.76 L231.79,648.77 L232.16,648.78 L232.54,648.79 L232.92,648.79 L233.30,648.80 L233.68,648.81 L234.05,648.82 L234.43,648.82 L234.81,648.83 L235.19,648.84 L235.57,648.85 L235.94,648.85 L236.32,648.86 L236.70,648.86 L237.08,648.87 L237.46,648.88 L237.83,648.88 L238.21,648.89 L238.59,648.89 L238.97,648.90 L239.35,648.90 L239.72,648.90 L240.10,648.91 L240.48,648.91 L240.86,648.91 L241.24,648.92 L241.61,648.92 L241.99,648.92 L242.37,648.92 L242.75,648.92 L243.13,648.93 L243.50,648.93 L243.88,648.93 L244.26,648.93 L244.64,648.93 L245.02,648.93 L245.39,648.93 L245.77,648.92 L246.15,648.92 L246.53,648.92 L246.91,648.92 L247.28,648.92 L247.66,648.91 L248.04,648.91 L248.42,648.91 L248.80,648.90 L249.17,648.90 L249.55,648.89 L249.93,648.89 L250.31,648.88 L250.69,648.88 L251.06,648.87 L251.44,648.86 L251.82,648.86 L252.20,648.85 L252.58,648.84 L252.95,648.84 L253.33,648.83 L253.71,648.82 L254.09,648.81 L254.47,648.80 L254.84,648.79 L255.22,648.78 L255.60,648.77 L255.98,648.76 L256.36,648.75 L256.73,648.74 L257.11,648.73 L257.49,648.72 L257.87,648.70 L258.25,648.69 L258.62,648.68 L259.00,648.66 L259.38,648.65 L259.76,648.64 L260.14,648.62 L260.51,648.61 L260.89,648.59 L261.27,648.58 L261.65,648.56 L262.03,648.55 L262.40,648.53 L262.78,648.51 L263.16,648.50 L263.54,648.48 L263.92,648.46 L264.29,648.45 L264.67,648.43 L265.05,648.41 L265.43,648.39 L265.81,648.37 L266.18,648.35 L266.56,648.33 L266.94,648.31 L267.32,648.29 L267.70,648.27 L268.07,648.25 L268.45,648.23 L268.83,648.21 L269.21,648.19 L269.59,648.16 L269.96,648.14 L270.34,648.12 L270.72,648.09 L271.10,648.07 L271.48,648.05 L271.85,648.02 L272.23,648.00 L272.61,647.97 L272.99,647.95 L273.37,647.92 L273.74,647.90 L274.12,647.87 L274.50,647.85" fill="none" stroke="#000" stroke-width="2.8" stroke-linejoin="round" stroke-linecap="round" />
<rect x="121.30" y="507.09" width="4.0" height="4.0" fill="#000"/><rect x="125.08" y="507.09" width="4.0" height="4.0" fill="#000"/><rect x="128.86" y="507.09" width="4.0" height="4.0" fill="#000"/><rect x="132.64" y="507.09" width="4.0" height="4.0" fill="#000"/><rect x="136.42" y="507.09" width="4.0" height="4.0" fill="#000"/><rect x="140.20" y="507.09" width="4.0" height="4.0" fill="#000"/><rect x="143.98" y="507.09" width="4.0" height="4.0" fill="#000"/><rect x="147.76" y="507.09" width="4.0" height="4.0" fill="#000"/><rect x="151.54" y="507.09" width="4.0" height="4.0" fill="#000"/><rect x="155.32" y="507.09" width="4.0" height="4.0" fill="#000"/><rect x="159.10" y="507.09" width="4.0" height="4.0" fill="#000"/><rect x="162.88" y="507.09" width="4.0" height="4.0" fill="#000"/><rect x="166.66" y="507.09" width="4.0" height="4.0" fill="#000"/><rect x="170.44" y="507.09" width="4.0" height="4.0" fill="#000"/><rect x="174.22" y="507.09" width="4.0" height="4.0" fill="#000"/><rect x="178.00" y="507.97" width="4.0" height="4.0" fill="#000"/><rect x="181.78" y="514.64" width="4.0" height="4.0" fill="#000"/><rect x="185.56" y="534.25" width="4.0" height="4.0" fill="#000"/><rect x="189.34" y="566.24" width="4.0" height="4.0" fill="#000"/><rect x="193.12" y="600.14" width="4.0" height="4.0" fill="#000"/><rect x="196.90" y="623.06" width="4.0" height="4.0" fill="#000"/><rect x="200.68" y="633.11" width="4.0" height="4.0" fill="#000"/><rect x="204.46" y="639.28" width="4.0" height="4.0" fill="#000"/><rect x="208.24" y="642.41" width="4.0" height="4.0" fill="#000"/><rect x="212.02" y="644.20" width="4.0" height="4.0" fill="#000"/><rect x="215.80" y="645.12" width="4.0" height="4.0" fill="#000"/><rect x="219.58" y="645.85" width="4.0" height="4.0" fill="#000"/><rect x="223.36" y="646.37" width="4.0" height="4.0" fill="#000"/><rect x="227.14" y="646.68" width="4.0" height="4.0" fill="#000"/><rect x="230.92" y="646.79" width="4.0" height="4.0" fill="#000"/><rect x="234.70" y="646.86" width="4.0" height="4.0" fill="#000"/><rect x="238.48" y="646.91" width="4.0" height="4.0" fill="#000"/><rect x="242.26" y="646.93" width="4.0" height="4.0" fill="#000"/><rect x="246.04" y="646.91" width="4.0" height="4.0" fill="#000"/><rect x="249.82" y="646.86" width="4.0" height="4.0" fill="#000"/><rect x="253.60" y="646.77" width="4.0" height="4.0" fill="#000"/><rect x="257.38" y="646.65" width="4.0" height="4.0" fill="#000"/><rect x="261.16" y="646.50" width="4.0" height="4.0" fill="#000"/><rect x="264.94" y="646.31" width="4.0" height="4.0" fill="#000"/><rect x="268.72" y="646.09" width="4.0" height="4.0" fill="#000"/><rect x="272.50" y="645.85" width="4.0" height="4.0" fill="#000"/>
<path d="M123.30,514.86 L123.68,514.86 L124.06,514.86 L124.43,514.86 L124.81,514.86 L125.19,514.86 L125.57,514.86 L125.95,514.86 L126.32,514.86 L126.70,514.86 L127.08,514.86 L127.46,514.86 L127.84,514.86 L128.21,514.86 L128.59,514.86 L128.97,514.86 L129.35,514.86 L129.73,514.86 L130.10,514.86 L130.48,514.86 L130.86,514.86 L131.24,514.86 L131.62,514.86 L131.99,514.86 L132.37,514.86 L132.75,514.86 L133.13,514.86 L133.51,514.86 L133.88,514.86 L134.26,514.86 L134.64,514.86 L135.02,514.86 L135.40,514.86 L135.77,514.86 L136.15,514.86 L136.53,514.86 L136.91,514.86 L137.29,514.86 L137.66,514.86 L138.04,514.86 L138.42,514.86 L138.80,514.86 L139.18,514.86 L139.55,514.86 L139.93,514.86 L140.31,514.86 L140.69,514.86 L141.07,514.86 L141.44,514.86 L141.82,514.86 L142.20,514.86 L142.58,514.86 L142.96,514.86 L143.33,514.86 L143.71,514.86 L144.09,514.86 L144.47,514.86 L144.85,514.86 L145.22,514.86 L145.60,514.86 L145.98,514.86 L146.36,514.86 L146.74,514.86 L147.11,514.86 L147.49,514.86 L147.87,514.86 L148.25,514.86 L148.63,514.86 L149.00,514.86 L149.38,514.86 L149.76,514.86 L150.14,514.86 L150.52,514.86 L150.89,514.86 L151.27,514.86 L151.65,514.86 L152.03,514.86 L152.41,514.86 L152.78,514.86 L153.16,514.86 L153.54,514.86 L153.92,514.86 L154.30,514.86 L154.67,514.86 L155.05,514.86 L155.43,514.86 L155.81,514.86 L156.19,514.86 L156.56,514.86 L156.94,514.86 L157.32,514.86 L157.70,514.86 L158.08,514.86 L158.45,514.86 L158.83,514.86 L159.21,514.86 L159.59,514.86 L159.97,514.86 L160.34,514.86 L160.72,514.86 L161.10,514.86 L161.48,514.86 L161.86,514.86 L162.23,514.86 L162.61,514.86 L162.99,514.86 L163.37,514.86 L163.75,514.86 L164.12,514.86 L164.50,514.86 L164.88,514.86 L165.26,514.86 L165.64,514.86 L166.01,514.86 L166.39,514.86 L166.77,514.86 L167.15,514.86 L167.53,514.86 L167.90,514.86 L168.28,514.86 L168.66,514.86 L169.04,514.86 L169.42,514.86 L169.79,514.86 L170.17,514.86 L170.55,514.86 L170.93,514.86 L171.31,514.86 L171.68,514.86 L172.06,514.86 L172.44,514.86 L172.82,514.86 L173.20,514.86 L173.57,514.86 L173.95,514.86 L174.33,514.86 L174.71,514.86 L175.09,514.86 L175.46,514.86 L175.84,514.86 L176.22,514.86 L176.60,514.86 L176.98,514.86 L177.35,514.89 L177.73,515.00 L178.11,515.16 L178.49,515.39 L178.87,515.68 L179.24,516.02 L179.62,516.41 L180.00,516.84 L180.38,517.79 L180.76,519.62 L181.13,522.12 L181.51,525.13 L181.89,528.45 L182.27,531.89 L182.65,535.28 L183.02,538.48 L183.40,541.92 L183.78,545.66 L184.16,549.60 L184.54,553.67 L184.91,557.78 L185.29,561.86 L185.67,565.81 L186.05,569.56 L186.43,573.03 L186.80,576.19 L187.18,579.17 L187.56,582.04 L187.94,584.79 L188.32,587.46 L188.69,590.06 L189.07,592.61 L189.45,595.13 L189.83,597.64 L190.21,600.17 L190.58,602.72 L190.96,605.32 L191.34,608.06 L191.72,610.96 L192.10,613.96 L192.47,616.98 L192.85,619.93 L193.23,622.76 L193.61,625.38 L193.99,627.72 L194.36,629.71 L194.74,631.27 L195.12,632.54 L195.50,633.72 L195.88,634.81 L196.25,635.82 L196.63,636.75 L197.01,637.61 L197.39,638.41 L197.77,639.14 L198.14,639.82 L198.52,640.45 L198.90,641.03 L199.28,641.57 L199.66,642.11 L200.03,642.63 L200.41,643.14 L200.79,643.64 L201.17,644.13 L201.55,644.61 L201.92,645.07 L202.30,645.52 L202.68,645.95 L203.06,646.37 L203.44,646.76 L203.81,647.14 L204.19,647.51 L204.57,647.85 L204.95,648.17 L205.33,648.46 L205.70,648.74 L206.08,648.99 L206.46,649.21 L206.84,649.41 L207.22,649.59 L207.59,649.73 L207.97,649.85 L208.35,649.96 L208.73,650.06 L209.11,650.16 L209.48,650.26 L209.86,650.36 L210.24,650.45 L210.62,650.54 L211.00,650.63 L211.37,650.71 L211.75,650.79 L212.13,650.87 L212.51,650.95 L212.89,651.02 L213.26,651.09 L213.64,651.16 L214.02,651.23 L214.40,651.29 L214.78,651.35 L215.15,651.41 L215.53,651.47 L215.91,651.52 L216.29,651.57 L216.67,651.62 L217.04,651.66 L217.42,651.70 L217.80,651.74 L218.18,651.78 L218.56,651.81 L218.93,651.84 L219.31,651.87 L219.69,651.90 L220.07,651.92 L220.45,651.94 L220.82,651.96 L221.20,651.98 L221.58,651.99 L221.96,652.00 L222.34,652.01 L222.71,652.03 L223.09,652.04 L223.47,652.05 L223.85,652.06 L224.23,652.07 L224.60,652.08 L224.98,652.09 L225.36,652.10 L225.74,652.11 L226.12,652.12 L226.49,652.13 L226.87,652.14 L227.25,652.15 L227.63,652.15 L228.01,652.16 L228.38,652.17 L228.76,652.18 L229.14,652.19 L229.52,652.20 L229.90,652.20 L230.27,652.21 L230.65,652.22 L231.03,652.23 L231.41,652.23 L231.79,652.24 L232.16,652.25 L232.54,652.25 L232.92,652.26 L233.30,652.26 L233.68,652.27 L234.05,652.28 L234.43,652.28 L234.81,652.29 L235.19,652.29 L235.57,652.30 L235.94,652.30 L236.32,652.31 L236.70,652.31 L237.08,652.31 L237.46,652.32 L237.83,652.32 L238.21,652.32 L238.59,652.33 L238.97,652.33 L239.35,652.33 L239.72,652.34 L240.10,652.34 L240.48,652.34 L240.86,652.34 L241.24,652.34 L241.61,652.35 L241.99,652.35 L242.37,652.35 L242.75,652.35 L243.13,652.35 L243.50,652.35 L243.88,652.35 L244.26,652.35 L244.64,652.35 L245.02,652.35 L245.39,652.35 L245.77,652.35 L246.15,652.35 L246.53,652.35 L246.91,652.35 L247.28,652.35 L247.66,652.34 L248.04,652.34 L248.42,652.34 L248.80,652.34 L249.17,652.34 L249.55,652.34 L249.93,652.33 L250.31,652.33 L250.69,652.33 L251.06,652.33 L251.44,652.32 L251.82,652.32 L252.20,652.32 L252.58,652.31 L252.95,652.31 L253.33,652.31 L253.71,652.30 L254.09,652.30 L254.47,652.29 L254.84,652.29 L255.22,652.28 L255.60,652.28 L255.98,652.27 L256.36,652.27 L256.73,652.26 L257.11,652.26 L257.49,652.25 L257.87,652.25 L258.25,652.24 L258.62,652.23 L259.00,652.23 L259.38,652.22 L259.76,652.21 L260.14,652.21 L260.51,652.20 L260.89,652.19 L261.27,652.19 L261.65,652.18 L262.03,652.17 L262.40,652.16 L262.78,652.15 L263.16,652.15 L263.54,652.14 L263.92,652.13 L264.29,652.12 L264.67,652.11 L265.05,652.10 L265.43,652.09 L265.81,652.08 L266.18,652.07 L266.56,652.06 L266.94,652.05 L267.32,652.04 L267.70,652.03 L268.07,652.02 L268.45,652.01 L268.83,652.00 L269.21,651.99 L269.59,651.98 L269.96,651.97 L270.34,651.95 L270.72,651.94 L271.10,651.93 L271.48,651.92 L271.85,651.90 L272.23,651.89 L272.61,651.88 L272.99,651.87 L273.37,651.85 L273.74,651.84 L274.12,651.82 L274.50,651.81" fill="none" stroke="#d41a24" stroke-width="2.8" stroke-linejoin="round" stroke-linecap="round" />
<circle cx="123.30" cy="514.86" r="2.2" fill="#d41a24"/><circle cx="127.08" cy="514.86" r="2.2" fill="#d41a24"/><circle cx="130.86" cy="514.86" r="2.2" fill="#d41a24"/><circle cx="134.64" cy="514.86" r="2.2" fill="#d41a24"/><circle cx="138.42" cy="514.86" r="2.2" fill="#d41a24"/><circle cx="142.20" cy="514.86" r="2.2" fill="#d41a24"/><circle cx="145.98" cy="514.86" r="2.2" fill="#d41a24"/><circle cx="149.76" cy="514.86" r="2.2" fill="#d41a24"/><circle cx="153.54" cy="514.86" r="2.2" fill="#d41a24"/><circle cx="157.32" cy="514.86" r="2.2" fill="#d41a24"/><circle cx="161.10" cy="514.86" r="2.2" fill="#d41a24"/><circle cx="164.88" cy="514.86" r="2.2" fill="#d41a24"/><circle cx="168.66" cy="514.86" r="2.2" fill="#d41a24"/><circle cx="172.44" cy="514.86" r="2.2" fill="#d41a24"/><circle cx="176.22" cy="514.86" r="2.2" fill="#d41a24"/><circle cx="180.00" cy="516.84" r="2.2" fill="#d41a24"/><circle cx="183.78" cy="545.66" r="2.2" fill="#d41a24"/><circle cx="187.56" cy="582.04" r="2.2" fill="#d41a24"/><circle cx="191.34" cy="608.06" r="2.2" fill="#d41a24"/><circle cx="195.12" cy="632.54" r="2.2" fill="#d41a24"/><circle cx="198.90" cy="641.03" r="2.2" fill="#d41a24"/><circle cx="202.68" cy="645.95" r="2.2" fill="#d41a24"/><circle cx="206.46" cy="649.21" r="2.2" fill="#d41a24"/><circle cx="210.24" cy="650.45" r="2.2" fill="#d41a24"/><circle cx="214.02" cy="651.23" r="2.2" fill="#d41a24"/><circle cx="217.80" cy="651.74" r="2.2" fill="#d41a24"/><circle cx="221.58" cy="651.99" r="2.2" fill="#d41a24"/><circle cx="225.36" cy="652.10" r="2.2" fill="#d41a24"/><circle cx="229.14" cy="652.19" r="2.2" fill="#d41a24"/><circle cx="232.92" cy="652.26" r="2.2" fill="#d41a24"/><circle cx="236.70" cy="652.31" r="2.2" fill="#d41a24"/><circle cx="240.48" cy="652.34" r="2.2" fill="#d41a24"/><circle cx="244.26" cy="652.35" r="2.2" fill="#d41a24"/><circle cx="248.04" cy="652.34" r="2.2" fill="#d41a24"/><circle cx="251.82" cy="652.32" r="2.2" fill="#d41a24"/><circle cx="255.60" cy="652.28" r="2.2" fill="#d41a24"/><circle cx="259.38" cy="652.22" r="2.2" fill="#d41a24"/><circle cx="263.16" cy="652.15" r="2.2" fill="#d41a24"/><circle cx="266.94" cy="652.05" r="2.2" fill="#d41a24"/><circle cx="270.72" cy="651.94" r="2.2" fill="#d41a24"/><circle cx="274.50" cy="651.81" r="2.2" fill="#d41a24"/>
<path d="M123.30,517.92 L123.68,517.92 L124.06,517.92 L124.43,517.92 L124.81,517.92 L125.19,517.92 L125.57,517.92 L125.95,517.92 L126.32,517.92 L126.70,517.92 L127.08,517.92 L127.46,517.92 L127.84,517.92 L128.21,517.92 L128.59,517.92 L128.97,517.92 L129.35,517.92 L129.73,517.92 L130.10,517.92 L130.48,517.92 L130.86,517.92 L131.24,517.92 L131.62,517.92 L131.99,517.92 L132.37,517.92 L132.75,517.92 L133.13,517.92 L133.51,517.92 L133.88,517.92 L134.26,517.92 L134.64,517.92 L135.02,517.92 L135.40,517.92 L135.77,517.92 L136.15,517.92 L136.53,517.92 L136.91,517.92 L137.29,517.92 L137.66,517.92 L138.04,517.92 L138.42,517.92 L138.80,517.92 L139.18,517.92 L139.55,517.92 L139.93,517.92 L140.31,517.92 L140.69,517.92 L141.07,517.92 L141.44,517.92 L141.82,517.92 L142.20,517.92 L142.58,517.92 L142.96,517.92 L143.33,517.92 L143.71,517.92 L144.09,517.92 L144.47,517.92 L144.85,517.92 L145.22,517.92 L145.60,517.92 L145.98,517.92 L146.36,517.92 L146.74,517.92 L147.11,517.92 L147.49,517.92 L147.87,517.92 L148.25,517.92 L148.63,517.92 L149.00,517.92 L149.38,517.92 L149.76,517.92 L150.14,517.92 L150.52,517.92 L150.89,517.92 L151.27,517.92 L151.65,517.92 L152.03,517.92 L152.41,517.92 L152.78,517.92 L153.16,517.92 L153.54,517.92 L153.92,517.92 L154.30,517.92 L154.67,517.92 L155.05,517.92 L155.43,517.92 L155.81,517.92 L156.19,517.92 L156.56,517.92 L156.94,517.92 L157.32,517.92 L157.70,517.92 L158.08,517.92 L158.45,517.92 L158.83,517.92 L159.21,517.92 L159.59,517.92 L159.97,517.92 L160.34,517.92 L160.72,517.92 L161.10,517.92 L161.48,517.92 L161.86,517.92 L162.23,517.92 L162.61,517.92 L162.99,517.92 L163.37,517.92 L163.75,517.92 L164.12,517.92 L164.50,517.92 L164.88,517.92 L165.26,517.92 L165.64,517.92 L166.01,517.92 L166.39,517.92 L166.77,517.92 L167.15,517.92 L167.53,517.92 L167.90,517.92 L168.28,517.92 L168.66,517.92 L169.04,517.92 L169.42,517.92 L169.79,517.92 L170.17,517.92 L170.55,517.92 L170.93,517.92 L171.31,517.92 L171.68,517.92 L172.06,517.92 L172.44,517.92 L172.82,517.92 L173.20,517.92 L173.57,517.92 L173.95,517.92 L174.33,517.92 L174.71,517.92 L175.09,517.92 L175.46,517.92 L175.84,517.92 L176.22,517.92 L176.60,517.92 L176.98,517.92 L177.35,517.92 L177.73,517.92 L178.11,517.92 L178.49,517.92 L178.87,517.97 L179.24,518.13 L179.62,518.37 L180.00,518.69 L180.38,519.09 L180.76,519.55 L181.13,520.06 L181.51,520.62 L181.89,521.51 L182.27,522.94 L182.65,524.77 L183.02,526.90 L183.40,529.21 L183.78,531.57 L184.16,533.88 L184.54,536.30 L184.91,538.94 L185.29,541.74 L185.67,544.69 L186.05,547.74 L186.43,550.85 L186.80,554.00 L187.18,557.14 L187.56,560.24 L187.94,563.28 L188.32,566.31 L188.69,569.35 L189.07,572.40 L189.45,575.47 L189.83,578.56 L190.21,581.67 L190.58,584.81 L190.96,587.98 L191.34,591.18 L191.72,594.41 L192.10,597.69 L192.47,601.09 L192.85,604.85 L193.23,608.85 L193.61,612.92 L193.99,616.88 L194.36,620.57 L194.74,623.82 L195.12,626.45 L195.50,628.36 L195.88,630.04 L196.25,631.61 L196.63,633.08 L197.01,634.45 L197.39,635.72 L197.77,636.90 L198.14,637.98 L198.52,638.97 L198.90,639.86 L199.28,640.66 L199.66,641.38 L200.03,642.00 L200.41,642.54 L200.79,643.04 L201.17,643.52 L201.55,643.98 L201.92,644.41 L202.30,644.83 L202.68,645.23 L203.06,645.61 L203.44,645.97 L203.81,646.31 L204.19,646.63 L204.57,646.93 L204.95,647.21 L205.33,647.48 L205.70,647.72 L206.08,647.94 L206.46,648.15 L206.84,648.33 L207.22,648.50 L207.59,648.64 L207.97,648.77 L208.35,648.89 L208.73,649.01 L209.11,649.13 L209.48,649.24 L209.86,649.36 L210.24,649.47 L210.62,649.58 L211.00,649.69 L211.37,649.80 L211.75,649.90 L212.13,650.01 L212.51,650.11 L212.89,650.21 L213.26,650.31 L213.64,650.41 L214.02,650.50 L214.40,650.59 L214.78,650.69 L215.15,650.78 L215.53,650.86 L215.91,650.95 L216.29,651.03 L216.67,651.12 L217.04,651.20 L217.42,651.28 L217.80,651.35 L218.18,651.43 L218.56,651.50 L218.93,651.57 L219.31,651.64 L219.69,651.71 L220.07,651.77 L220.45,651.83 L220.82,651.89 L221.20,651.95 L221.58,652.01 L221.96,652.06 L222.34,652.12 L222.71,652.17 L223.09,652.22 L223.47,652.26 L223.85,652.31 L224.23,652.35 L224.60,652.39 L224.98,652.42 L225.36,652.46 L225.74,652.49 L226.12,652.52 L226.49,652.55 L226.87,652.58 L227.25,652.60 L227.63,652.62 L228.01,652.64 L228.38,652.66 L228.76,652.67 L229.14,652.69 L229.52,652.70 L229.90,652.70 L230.27,652.71 L230.65,652.71 L231.03,652.71 L231.41,652.71 L231.79,652.71 L232.16,652.71 L232.54,652.71 L232.92,652.71 L233.30,652.71 L233.68,652.71 L234.05,652.71 L234.43,652.71 L234.81,652.71 L235.19,652.71 L235.57,652.71 L235.94,652.71 L236.32,652.71 L236.70,652.71 L237.08,652.71 L237.46,652.71 L237.83,652.71 L238.21,652.71 L238.59,652.71 L238.97,652.71 L239.35,652.71 L239.72,652.71 L240.10,652.71 L240.48,652.71 L240.86,652.71 L241.24,652.71 L241.61,652.71 L241.99,652.71 L242.37,652.71 L242.75,652.71 L243.13,652.71 L243.50,652.71 L243.88,652.71 L244.26,652.71 L244.64,652.71 L245.02,652.71 L245.39,652.71 L245.77,652.71 L246.15,652.71 L246.53,652.71 L246.91,652.70 L247.28,652.70 L247.66,652.70 L248.04,652.70 L248.42,652.69 L248.80,652.69 L249.17,652.69 L249.55,652.68 L249.93,652.68 L250.31,652.68 L250.69,652.67 L251.06,652.67 L251.44,652.66 L251.82,652.66 L252.20,652.65 L252.58,652.64 L252.95,652.64 L253.33,652.63 L253.71,652.63 L254.09,652.62 L254.47,652.61 L254.84,652.61 L255.22,652.60 L255.60,652.59 L255.98,652.58 L256.36,652.58 L256.73,652.57 L257.11,652.56 L257.49,652.55 L257.87,652.54 L258.25,652.53 L258.62,652.52 L259.00,652.51 L259.38,652.50 L259.76,652.49 L260.14,652.48 L260.51,652.47 L260.89,652.46 L261.27,652.45 L261.65,652.44 L262.03,652.43 L262.40,652.42 L262.78,652.41 L263.16,652.40 L263.54,652.39 L263.92,652.37 L264.29,652.36 L264.67,652.35 L265.05,652.34 L265.43,652.33 L265.81,652.31 L266.18,652.30 L266.56,652.29 L266.94,652.28 L267.32,652.26 L267.70,652.25 L268.07,652.24 L268.45,652.22 L268.83,652.21 L269.21,652.19 L269.59,652.18 L269.96,652.17 L270.34,652.15 L270.72,652.14 L271.10,652.12 L271.48,652.11 L271.85,652.10 L272.23,652.08 L272.61,652.07 L272.99,652.05 L273.37,652.04 L273.74,652.02 L274.12,652.01 L274.50,651.99" fill="none" stroke="#2a14f0" stroke-width="2.8" stroke-linejoin="round" stroke-linecap="round" />
<path d="M123.30,515.28 L125.70,519.90 L120.90,519.90 Z" fill="#2a14f0"/><path d="M127.08,515.28 L129.48,519.90 L124.68,519.90 Z" fill="#2a14f0"/><path d="M130.86,515.28 L133.26,519.90 L128.46,519.90 Z" fill="#2a14f0"/><path d="M134.64,515.28 L137.04,519.90 L132.24,519.90 Z" fill="#2a14f0"/><path d="M138.42,515.28 L140.82,519.90 L136.02,519.90 Z" fill="#2a14f0"/><path d="M142.20,515.28 L144.60,519.90 L139.80,519.90 Z" fill="#2a14f0"/><path d="M145.98,515.28 L148.38,519.90 L143.58,519.90 Z" fill="#2a14f0"/><path d="M149.76,515.28 L152.16,519.90 L147.36,519.90 Z" fill="#2a14f0"/><path d="M153.54,515.28 L155.94,519.90 L151.14,519.90 Z" fill="#2a14f0"/><path d="M157.32,515.28 L159.72,519.90 L154.92,519.90 Z" fill="#2a14f0"/><path d="M161.10,515.28 L163.50,519.90 L158.70,519.90 Z" fill="#2a14f0"/><path d="M164.88,515.28 L167.28,519.90 L162.48,519.90 Z" fill="#2a14f0"/><path d="M168.66,515.28 L171.06,519.90 L166.26,519.90 Z" fill="#2a14f0"/><path d="M172.44,515.28 L174.84,519.90 L170.04,519.90 Z" fill="#2a14f0"/><path d="M176.22,515.28 L178.62,519.90 L173.82,519.90 Z" fill="#2a14f0"/><path d="M180.00,516.05 L182.40,520.67 L177.60,520.67 Z" fill="#2a14f0"/><path d="M183.78,528.93 L186.18,533.55 L181.38,533.55 Z" fill="#2a14f0"/><path d="M187.56,557.60 L189.96,562.22 L185.16,562.22 Z" fill="#2a14f0"/><path d="M191.34,588.54 L193.74,593.16 L188.94,593.16 Z" fill="#2a14f0"/><path d="M195.12,623.81 L197.52,628.43 L192.72,628.43 Z" fill="#2a14f0"/><path d="M198.90,637.22 L201.30,641.84 L196.50,641.84 Z" fill="#2a14f0"/><path d="M202.68,642.59 L205.08,647.21 L200.28,647.21 Z" fill="#2a14f0"/><path d="M206.46,645.51 L208.86,650.13 L204.06,650.13 Z" fill="#2a14f0"/><path d="M210.24,646.83 L212.64,651.45 L207.84,651.45 Z" fill="#2a14f0"/><path d="M214.02,647.86 L216.42,652.48 L211.62,652.48 Z" fill="#2a14f0"/><path d="M217.80,648.71 L220.20,653.33 L215.40,653.33 Z" fill="#2a14f0"/><path d="M221.58,649.37 L223.98,653.99 L219.18,653.99 Z" fill="#2a14f0"/><path d="M225.36,649.82 L227.76,654.44 L222.96,654.44 Z" fill="#2a14f0"/><path d="M229.14,650.05 L231.54,654.67 L226.74,654.67 Z" fill="#2a14f0"/><path d="M232.92,650.07 L235.32,654.69 L230.52,654.69 Z" fill="#2a14f0"/><path d="M236.70,650.07 L239.10,654.69 L234.30,654.69 Z" fill="#2a14f0"/><path d="M240.48,650.07 L242.88,654.69 L238.08,654.69 Z" fill="#2a14f0"/><path d="M244.26,650.07 L246.66,654.69 L241.86,654.69 Z" fill="#2a14f0"/><path d="M248.04,650.06 L250.44,654.68 L245.64,654.68 Z" fill="#2a14f0"/><path d="M251.82,650.02 L254.22,654.64 L249.42,654.64 Z" fill="#2a14f0"/><path d="M255.60,649.95 L258.00,654.57 L253.20,654.57 Z" fill="#2a14f0"/><path d="M259.38,649.86 L261.78,654.48 L256.98,654.48 Z" fill="#2a14f0"/><path d="M263.16,649.76 L265.56,654.38 L260.76,654.38 Z" fill="#2a14f0"/><path d="M266.94,649.64 L269.34,654.26 L264.54,654.26 Z" fill="#2a14f0"/><path d="M270.72,649.50 L273.12,654.12 L268.32,654.12 Z" fill="#2a14f0"/><path d="M274.50,649.35 L276.90,653.97 L272.10,653.97 Z" fill="#2a14f0"/>
<line x1="205.60" y1="523.10" x2="242.00" y2="523.10" stroke="#000" stroke-width="3.2" stroke-linecap="butt"/>
<rect x="221.40" y="520.80" width="4.6" height="4.6" fill="#000"/>
<text transform="translate(244.00,530.40) scale(0.983,1)" x="-1.35" font-size="20.07" fill="#000" >PN1</text>
<line x1="205.60" y1="542.20" x2="242.00" y2="542.20" stroke="#d41a24" stroke-width="3.2" stroke-linecap="butt"/>
<circle cx="223.70" cy="542.20" r="2.5" fill="#d41a24"/>
<text transform="translate(244.00,549.50) scale(1.044,1)" x="-1.34" font-size="19.78" fill="#000" >PN2</text>
<line x1="205.60" y1="561.30" x2="242.00" y2="561.30" stroke="#2a14f0" stroke-width="3.2" stroke-linecap="butt"/>
<path d="M223.70,558.26 L226.46,563.58 L220.94,563.58 Z" fill="#2a14f0"/>
<text transform="translate(244.00,569.54) scale(0.989,1)" x="-1.41" font-size="20.85" fill="#000" >PN3</text>
<text transform="translate(3.60,747.10) scale(0.867,1)" x="-1.34" font-size="19.78" fill="#000" >E</text>
<rect x="104.2" y="750.3" width="187.3" height="180.9" fill="none" stroke="#000" stroke-width="3"/>
<line x1="100.00" y1="912.00" x2="104.20" y2="912.00" stroke="#000" stroke-width="2.6" stroke-linecap="butt"/>
<text x="68.48" y="920.39" font-size="23.2" fill="#000">20</text>
<line x1="100.00" y1="874.00" x2="104.20" y2="874.00" stroke="#000" stroke-width="2.6" stroke-linecap="butt"/>
<text x="68.48" y="882.39" font-size="23.2" fill="#000">40</text>
<line x1="100.00" y1="836.00" x2="104.20" y2="836.00" stroke="#000" stroke-width="2.6" stroke-linecap="butt"/>
<text x="68.48" y="844.39" font-size="23.2" fill="#000">60</text>
<line x1="100.00" y1="798.00" x2="104.20" y2="798.00" stroke="#000" stroke-width="2.6" stroke-linecap="butt"/>
<text x="68.48" y="806.39" font-size="23.2" fill="#000">80</text>
<line x1="100.00" y1="760.00" x2="104.20" y2="760.00" stroke="#000" stroke-width="2.6" stroke-linecap="butt"/>
<text x="55.54" y="768.39" font-size="23.2" fill="#000">100</text>
<line x1="118.50" y1="931.20" x2="118.50" y2="935.00" stroke="#000" stroke-width="2.4" stroke-linecap="butt"/>
<text x="105.65" y="957.64" font-size="23.0" fill="#000">25</text>
<line x1="148.00" y1="931.20" x2="148.00" y2="935.00" stroke="#000" stroke-width="2.4" stroke-linecap="butt"/>
<text x="135.44" y="957.64" font-size="23.0" fill="#000">30</text>
<line x1="177.50" y1="931.20" x2="177.50" y2="935.00" stroke="#000" stroke-width="2.4" stroke-linecap="butt"/>
<text x="164.79" y="957.64" font-size="23.0" fill="#000">35</text>
<line x1="207.00" y1="931.20" x2="207.00" y2="935.00" stroke="#000" stroke-width="2.4" stroke-linecap="butt"/>
<text x="194.52" y="957.64" font-size="23.0" fill="#000">40</text>
<line x1="236.50" y1="931.20" x2="236.50" y2="935.00" stroke="#000" stroke-width="2.4" stroke-linecap="butt"/>
<text x="223.88" y="957.41" font-size="23.0" fill="#000">45</text>
<line x1="266.00" y1="931.20" x2="266.00" y2="935.00" stroke="#000" stroke-width="2.4" stroke-linecap="butt"/>
<text x="253.35" y="957.64" font-size="23.0" fill="#000">50</text>
<text transform="translate(46.90,940.80) rotate(-90) scale(0.987,1)" x="-0.24" font-size="23.59" fill="#000">Transmittance (%)</text>
<text transform="translate(106.00,981.20) scale(1.004,1)" x="-0.23" font-size="23.13" fill="#000" >Temperatrue</text>
<text x="251.8" y="982.6" font-size="23.2">(</text>
<circle cx="262.7" cy="964.8" r="2.5" fill="none" stroke="#000" stroke-width="1.5"/>
<text transform="translate(267.95,981.76) scale(0.976,1)" x="-0.97" font-size="24.17" fill="#000" >C</text>
<text x="283.4" y="982.6" font-size="23.2">)</text>
<path d="M118.50,767.03 L118.80,767.03 L119.09,767.03 L119.38,767.03 L119.68,767.03 L119.97,767.03 L120.27,767.03 L120.57,767.03 L120.86,767.03 L121.16,767.03 L121.45,767.03 L121.75,767.03 L122.04,767.03 L122.33,767.03 L122.63,767.03 L122.92,767.03 L123.22,767.03 L123.52,767.03 L123.81,767.03 L124.10,767.03 L124.40,767.03 L124.70,767.03 L124.99,767.03 L125.28,767.03 L125.58,767.03 L125.88,767.03 L126.17,767.03 L126.47,767.03 L126.76,767.03 L127.05,767.03 L127.35,767.03 L127.65,767.03 L127.94,767.03 L128.23,767.03 L128.53,767.03 L128.82,767.03 L129.12,767.03 L129.42,767.03 L129.71,767.03 L130.00,767.03 L130.30,767.03 L130.59,767.03 L130.89,767.03 L131.19,767.03 L131.48,767.03 L131.78,767.03 L132.07,767.03 L132.37,767.03 L132.66,767.03 L132.95,767.03 L133.25,767.03 L133.55,767.03 L133.84,767.03 L134.13,767.03 L134.43,767.03 L134.72,767.03 L135.02,767.03 L135.31,767.03 L135.61,767.03 L135.91,767.03 L136.20,767.03 L136.50,767.03 L136.79,767.03 L137.08,767.03 L137.38,767.03 L137.68,767.03 L137.97,767.03 L138.27,767.03 L138.56,767.03 L138.85,767.03 L139.15,767.03 L139.44,767.03 L139.74,767.03 L140.03,767.03 L140.33,767.03 L140.62,767.03 L140.92,767.03 L141.22,767.03 L141.51,767.03 L141.81,767.03 L142.10,767.03 L142.40,767.03 L142.69,767.03 L142.98,767.03 L143.28,767.03 L143.57,767.03 L143.87,767.03 L144.17,767.03 L144.46,767.03 L144.75,767.03 L145.05,767.03 L145.34,767.03 L145.64,767.03 L145.94,767.03 L146.23,767.03 L146.53,767.03 L146.82,767.03 L147.12,767.03 L147.41,767.03 L147.70,767.03 L148.00,767.03 L148.30,767.03 L148.59,767.03 L148.88,767.03 L149.18,767.03 L149.47,767.03 L149.77,767.03 L150.06,767.03 L150.36,767.03 L150.66,767.03 L150.95,767.03 L151.25,767.03 L151.54,767.03 L151.83,767.03 L152.13,767.03 L152.43,767.03 L152.72,767.03 L153.02,767.03 L153.31,767.03 L153.60,767.03 L153.90,767.03 L154.19,767.03 L154.49,767.03 L154.78,767.03 L155.08,767.03 L155.38,767.03 L155.67,767.03 L155.97,767.03 L156.26,767.03 L156.56,767.03 L156.85,767.03 L157.15,767.03 L157.44,767.03 L157.73,767.03 L158.03,767.03 L158.32,767.03 L158.62,767.03 L158.92,767.03 L159.21,767.03 L159.50,767.03 L159.80,767.03 L160.09,767.03 L160.39,767.03 L160.69,767.03 L160.98,767.03 L161.28,767.03 L161.57,767.03 L161.87,767.03 L162.16,767.03 L162.46,767.03 L162.75,767.03 L163.04,767.03 L163.34,767.03 L163.63,767.03 L163.93,767.03 L164.22,767.03 L164.52,767.03 L164.81,767.03 L165.11,767.03 L165.41,767.03 L165.70,767.03 L165.99,767.03 L166.29,767.03 L166.58,767.03 L166.88,767.03 L167.18,767.03 L167.47,767.03 L167.77,767.03 L168.06,767.03 L168.36,767.03 L168.65,767.03 L168.94,767.03 L169.24,767.03 L169.53,767.03 L169.83,767.03 L170.12,767.03 L170.42,767.03 L170.72,767.03 L171.01,767.03 L171.31,767.03 L171.60,767.03 L171.89,767.03 L172.19,767.03 L172.48,767.03 L172.78,767.03 L173.07,767.03 L173.37,767.03 L173.67,767.03 L173.96,767.03 L174.26,767.03 L174.55,767.03 L174.84,767.03 L175.14,767.03 L175.44,767.03 L175.73,767.03 L176.03,767.05 L176.32,767.10 L176.62,767.19 L176.91,767.30 L177.21,767.44 L177.50,767.60 L177.79,767.94 L178.09,768.57 L178.38,769.44 L178.68,770.47 L178.97,771.62 L179.27,772.80 L179.56,773.95 L179.86,775.02 L180.16,776.00 L180.45,776.95 L180.75,777.94 L181.04,779.05 L181.33,780.34 L181.63,781.88 L181.93,784.00 L182.22,787.07 L182.52,790.82 L182.81,794.95 L183.11,799.17 L183.40,803.17 L183.69,806.83 L183.99,810.56 L184.28,814.36 L184.58,818.17 L184.88,821.92 L185.17,825.52 L185.47,828.92 L185.76,832.04 L186.06,834.82 L186.35,837.35 L186.64,839.73 L186.94,841.98 L187.24,844.11 L187.53,846.15 L187.82,848.12 L188.12,850.04 L188.42,851.94 L188.71,853.83 L189.01,855.75 L189.30,857.69 L189.59,859.67 L189.89,861.67 L190.19,863.66 L190.48,865.64 L190.78,867.60 L191.07,869.50 L191.37,871.35 L191.66,873.13 L191.96,874.81 L192.25,876.40 L192.54,877.86 L192.84,879.20 L193.13,880.47 L193.43,881.70 L193.73,882.91 L194.02,884.08 L194.31,885.21 L194.61,886.29 L194.91,887.34 L195.20,888.34 L195.50,889.29 L195.79,890.20 L196.08,891.05 L196.38,891.84 L196.68,892.58 L196.97,893.26 L197.27,893.88 L197.56,894.47 L197.86,895.03 L198.15,895.58 L198.44,896.11 L198.74,896.63 L199.03,897.12 L199.33,897.60 L199.62,898.06 L199.92,898.51 L200.22,898.93 L200.51,899.34 L200.81,899.73 L201.10,900.11 L201.39,900.47 L201.69,900.81 L201.99,901.14 L202.28,901.45 L202.57,901.75 L202.87,902.03 L203.17,902.30 L203.46,902.55 L203.76,902.79 L204.05,903.04 L204.34,903.28 L204.64,903.52 L204.94,903.75 L205.23,903.98 L205.53,904.21 L205.82,904.43 L206.12,904.65 L206.41,904.87 L206.71,905.07 L207.00,905.28 L207.29,905.47 L207.59,905.66 L207.88,905.85 L208.18,906.02 L208.48,906.19 L208.77,906.35 L209.06,906.50 L209.36,906.64 L209.66,906.77 L209.95,906.89 L210.25,907.00 L210.54,907.11 L210.83,907.20 L211.13,907.27 L211.43,907.34 L211.72,907.40 L212.02,907.44 L212.31,907.48 L212.61,907.51 L212.90,907.55 L213.19,907.58 L213.49,907.61 L213.78,907.65 L214.08,907.68 L214.38,907.71 L214.67,907.74 L214.97,907.78 L215.26,907.81 L215.56,907.84 L215.85,907.87 L216.14,907.90 L216.44,907.93 L216.74,907.95 L217.03,907.98 L217.32,908.01 L217.62,908.04 L217.92,908.06 L218.21,908.09 L218.51,908.11 L218.80,908.14 L219.09,908.16 L219.39,908.19 L219.69,908.21 L219.98,908.23 L220.28,908.25 L220.57,908.28 L220.87,908.30 L221.16,908.32 L221.46,908.34 L221.75,908.36 L222.04,908.38 L222.34,908.40 L222.63,908.42 L222.93,908.43 L223.23,908.45 L223.52,908.47 L223.81,908.48 L224.11,908.50 L224.41,908.52 L224.70,908.53 L225.00,908.55 L225.29,908.56 L225.58,908.57 L225.88,908.59 L226.18,908.60 L226.47,908.61 L226.77,908.62 L227.06,908.63 L227.36,908.65 L227.65,908.66 L227.94,908.67 L228.24,908.68 L228.53,908.68 L228.83,908.69 L229.12,908.70 L229.42,908.71 L229.72,908.72 L230.01,908.72 L230.31,908.73 L230.60,908.73 L230.89,908.74 L231.19,908.75 L231.49,908.75 L231.78,908.75 L232.07,908.76 L232.37,908.76 L232.67,908.76 L232.96,908.77 L233.26,908.77 L233.55,908.77 L233.84,908.77 L234.14,908.77 L234.44,908.77 L234.73,908.77 L235.03,908.77 L235.32,908.77 L235.62,908.77 L235.91,908.77 L236.21,908.77 L236.50,908.77" fill="none" stroke="#000" stroke-width="2.8" stroke-linejoin="round" stroke-linecap="round" />
<rect x="116.60" y="765.13" width="3.8" height="3.8" fill="#000"/><rect x="119.55" y="765.13" width="3.8" height="3.8" fill="#000"/><rect x="122.50" y="765.13" width="3.8" height="3.8" fill="#000"/><rect x="125.45" y="765.13" width="3.8" height="3.8" fill="#000"/><rect x="128.40" y="765.13" width="3.8" height="3.8" fill="#000"/><rect x="131.35" y="765.13" width="3.8" height="3.8" fill="#000"/><rect x="134.30" y="765.13" width="3.8" height="3.8" fill="#000"/><rect x="137.25" y="765.13" width="3.8" height="3.8" fill="#000"/><rect x="140.20" y="765.13" width="3.8" height="3.8" fill="#000"/><rect x="143.15" y="765.13" width="3.8" height="3.8" fill="#000"/><rect x="146.10" y="765.13" width="3.8" height="3.8" fill="#000"/><rect x="149.05" y="765.13" width="3.8" height="3.8" fill="#000"/><rect x="152.00" y="765.13" width="3.8" height="3.8" fill="#000"/><rect x="154.95" y="765.13" width="3.8" height="3.8" fill="#000"/><rect x="157.90" y="765.13" width="3.8" height="3.8" fill="#000"/><rect x="160.85" y="765.13" width="3.8" height="3.8" fill="#000"/><rect x="163.80" y="765.13" width="3.8" height="3.8" fill="#000"/><rect x="166.75" y="765.13" width="3.8" height="3.8" fill="#000"/><rect x="169.70" y="765.13" width="3.8" height="3.8" fill="#000"/><rect x="172.65" y="765.13" width="3.8" height="3.8" fill="#000"/><rect x="175.60" y="765.70" width="3.8" height="3.8" fill="#000"/><rect x="178.55" y="775.05" width="3.8" height="3.8" fill="#000"/><rect x="181.50" y="801.27" width="3.8" height="3.8" fill="#000"/><rect x="184.45" y="835.45" width="3.8" height="3.8" fill="#000"/><rect x="187.40" y="855.79" width="3.8" height="3.8" fill="#000"/><rect x="190.35" y="874.50" width="3.8" height="3.8" fill="#000"/><rect x="193.30" y="886.44" width="3.8" height="3.8" fill="#000"/><rect x="196.25" y="893.68" width="3.8" height="3.8" fill="#000"/><rect x="199.20" y="898.21" width="3.8" height="3.8" fill="#000"/><rect x="202.15" y="901.14" width="3.8" height="3.8" fill="#000"/><rect x="205.10" y="903.38" width="3.8" height="3.8" fill="#000"/><rect x="208.05" y="904.99" width="3.8" height="3.8" fill="#000"/><rect x="211.00" y="905.65" width="3.8" height="3.8" fill="#000"/><rect x="213.95" y="905.97" width="3.8" height="3.8" fill="#000"/><rect x="216.90" y="906.24" width="3.8" height="3.8" fill="#000"/><rect x="219.85" y="906.46" width="3.8" height="3.8" fill="#000"/><rect x="222.80" y="906.63" width="3.8" height="3.8" fill="#000"/><rect x="225.75" y="906.76" width="3.8" height="3.8" fill="#000"/><rect x="228.70" y="906.83" width="3.8" height="3.8" fill="#000"/><rect x="231.65" y="906.87" width="3.8" height="3.8" fill="#000"/><rect x="234.60" y="906.87" width="3.8" height="3.8" fill="#000"/>
<path d="M118.50,773.49 L118.80,773.49 L119.09,773.49 L119.38,773.49 L119.68,773.49 L119.97,773.49 L120.27,773.49 L120.57,773.49 L120.86,773.49 L121.16,773.49 L121.45,773.49 L121.75,773.49 L122.04,773.49 L122.33,773.49 L122.63,773.49 L122.92,773.49 L123.22,773.49 L123.52,773.49 L123.81,773.49 L124.10,773.49 L124.40,773.49 L124.70,773.49 L124.99,773.49 L125.28,773.49 L125.58,773.49 L125.88,773.49 L126.17,773.49 L126.47,773.49 L126.76,773.49 L127.05,773.49 L127.35,773.49 L127.65,773.49 L127.94,773.49 L128.23,773.49 L128.53,773.49 L128.82,773.49 L129.12,773.49 L129.42,773.49 L129.71,773.49 L130.00,773.49 L130.30,773.49 L130.59,773.49 L130.89,773.49 L131.19,773.49 L131.48,773.49 L131.78,773.49 L132.07,773.49 L132.37,773.49 L132.66,773.49 L132.95,773.49 L133.25,773.49 L133.55,773.49 L133.84,773.49 L134.13,773.49 L134.43,773.49 L134.72,773.49 L135.02,773.49 L135.31,773.49 L135.61,773.49 L135.91,773.49 L136.20,773.49 L136.50,773.49 L136.79,773.49 L137.08,773.49 L137.38,773.49 L137.68,773.49 L137.97,773.49 L138.27,773.49 L138.56,773.49 L138.85,773.49 L139.15,773.49 L139.44,773.49 L139.74,773.49 L140.03,773.49 L140.33,773.49 L140.62,773.49 L140.92,773.49 L141.22,773.49 L141.51,773.49 L141.81,773.49 L142.10,773.49 L142.40,773.49 L142.69,773.49 L142.98,773.49 L143.28,773.49 L143.57,773.49 L143.87,773.49 L144.17,773.49 L144.46,773.49 L144.75,773.49 L145.05,773.49 L145.34,773.49 L145.64,773.49 L145.94,773.49 L146.23,773.49 L146.53,773.49 L146.82,773.49 L147.12,773.49 L147.41,773.49 L147.70,773.49 L148.00,773.49 L148.30,773.49 L148.59,773.49 L148.88,773.49 L149.18,773.49 L149.47,773.49 L149.77,773.49 L150.06,773.49 L150.36,773.49 L150.66,773.49 L150.95,773.49 L151.25,773.49 L151.54,773.49 L151.83,773.49 L152.13,773.49 L152.43,773.49 L152.72,773.49 L153.02,773.49 L153.31,773.49 L153.60,773.49 L153.90,773.49 L154.19,773.49 L154.49,773.49 L154.78,773.49 L155.08,773.49 L155.38,773.49 L155.67,773.49 L155.97,773.49 L156.26,773.49 L156.56,773.49 L156.85,773.49 L157.15,773.49 L157.44,773.49 L157.73,773.49 L158.03,773.49 L158.32,773.49 L158.62,773.49 L158.92,773.49 L159.21,773.49 L159.50,773.49 L159.80,773.49 L160.09,773.49 L160.39,773.49 L160.69,773.49 L160.98,773.49 L161.28,773.49 L161.57,773.49 L161.87,773.49 L162.16,773.49 L162.46,773.49 L162.75,773.49 L163.04,773.49 L163.34,773.49 L163.63,773.49 L163.93,773.49 L164.22,773.49 L164.52,773.49 L164.81,773.49 L165.11,773.49 L165.41,773.49 L165.70,773.49 L165.99,773.49 L166.29,773.49 L166.58,773.49 L166.88,773.49 L167.18,773.49 L167.47,773.49 L167.77,773.51 L168.06,773.57 L168.36,773.66 L168.65,773.78 L168.94,773.91 L169.24,774.06 L169.53,774.26 L169.83,774.57 L170.12,774.96 L170.42,775.43 L170.72,775.97 L171.01,776.55 L171.31,777.19 L171.60,777.85 L171.89,778.53 L172.19,779.21 L172.48,779.90 L172.78,780.62 L173.07,781.39 L173.37,782.22 L173.67,783.09 L173.96,784.02 L174.26,785.00 L174.55,786.03 L174.84,787.11 L175.14,788.23 L175.44,789.40 L175.73,790.64 L176.03,791.98 L176.32,793.43 L176.62,794.97 L176.91,796.58 L177.21,798.26 L177.50,800.00 L177.79,801.78 L178.09,803.60 L178.38,805.45 L178.68,807.30 L178.97,809.26 L179.27,811.32 L179.56,813.48 L179.86,815.70 L180.16,817.96 L180.45,820.23 L180.75,822.49 L181.04,824.71 L181.33,826.87 L181.63,828.95 L181.93,830.96 L182.22,832.98 L182.52,834.99 L182.81,836.99 L183.11,838.97 L183.40,840.90 L183.69,842.77 L183.99,844.57 L184.28,846.28 L184.58,847.90 L184.88,849.40 L185.17,850.84 L185.47,852.23 L185.76,853.58 L186.06,854.88 L186.35,856.14 L186.64,857.36 L186.94,858.53 L187.24,859.66 L187.53,860.75 L187.82,861.79 L188.12,862.79 L188.42,863.74 L188.71,864.66 L189.01,865.56 L189.30,866.44 L189.59,867.30 L189.89,868.14 L190.19,868.96 L190.48,869.75 L190.78,870.53 L191.07,871.28 L191.37,872.00 L191.66,872.70 L191.96,873.38 L192.25,874.03 L192.54,874.65 L192.84,875.25 L193.13,875.82 L193.43,876.36 L193.73,876.88 L194.02,877.39 L194.31,877.89 L194.61,878.37 L194.91,878.85 L195.20,879.31 L195.50,879.77 L195.79,880.21 L196.08,880.64 L196.38,881.07 L196.68,881.48 L196.97,881.88 L197.27,882.27 L197.56,882.66 L197.86,883.03 L198.15,883.39 L198.44,883.74 L198.74,884.09 L199.03,884.42 L199.33,884.75 L199.62,885.06 L199.92,885.37 L200.22,885.67 L200.51,885.96 L200.81,886.24 L201.10,886.51 L201.39,886.78 L201.69,887.05 L201.99,887.31 L202.28,887.57 L202.57,887.83 L202.87,888.08 L203.17,888.33 L203.46,888.57 L203.76,888.81 L204.05,889.04 L204.34,889.27 L204.64,889.50 L204.94,889.72 L205.23,889.94 L205.53,890.15 L205.82,890.35 L206.12,890.55 L206.41,890.74 L206.71,890.93 L207.00,891.11 L207.29,891.29 L207.59,891.46 L207.88,891.62 L208.18,891.78 L208.48,891.93 L208.77,892.07 L209.06,892.20 L209.36,892.33 L209.66,892.45 L209.95,892.57 L210.25,892.69 L210.54,892.80 L210.83,892.92 L211.13,893.03 L211.43,893.15 L211.72,893.26 L212.02,893.37 L212.31,893.48 L212.61,893.58 L212.90,893.69 L213.19,893.80 L213.49,893.90 L213.78,894.01 L214.08,894.11 L214.38,894.21 L214.67,894.31 L214.97,894.41 L215.26,894.51 L215.56,894.61 L215.85,894.70 L216.14,894.80 L216.44,894.89 L216.74,894.98 L217.03,895.08 L217.32,895.17 L217.62,895.26 L217.92,895.35 L218.21,895.43 L218.51,895.52 L218.80,895.61 L219.09,895.69 L219.39,895.77 L219.69,895.86 L219.98,895.94 L220.28,896.02 L220.57,896.10 L220.87,896.18 L221.16,896.25 L221.46,896.33 L221.75,896.40 L222.04,896.48 L222.34,896.55 L222.63,896.62 L222.93,896.70 L223.23,896.77 L223.52,896.84 L223.81,896.90 L224.11,896.97 L224.41,897.04 L224.70,897.10 L225.00,897.17 L225.29,897.23 L225.58,897.29 L225.88,897.35 L226.18,897.41 L226.47,897.47 L226.77,897.53 L227.06,897.59 L227.36,897.65 L227.65,897.70 L227.94,897.76 L228.24,897.81 L228.53,897.86 L228.83,897.91 L229.12,897.96 L229.42,898.01 L229.72,898.06 L230.01,898.11 L230.31,898.16 L230.60,898.20 L230.89,898.25 L231.19,898.29 L231.49,898.33 L231.78,898.38 L232.07,898.42 L232.37,898.46 L232.67,898.50 L232.96,898.54 L233.26,898.57 L233.55,898.61 L233.84,898.65 L234.14,898.68 L234.44,898.71 L234.73,898.74 L235.03,898.77 L235.32,898.80 L235.62,898.82 L235.91,898.85 L236.21,898.87 L236.50,898.89" fill="none" stroke="#d41a24" stroke-width="2.8" stroke-linejoin="round" stroke-linecap="round" />
<circle cx="118.50" cy="773.49" r="2.1" fill="#d41a24"/><circle cx="121.45" cy="773.49" r="2.1" fill="#d41a24"/><circle cx="124.40" cy="773.49" r="2.1" fill="#d41a24"/><circle cx="127.35" cy="773.49" r="2.1" fill="#d41a24"/><circle cx="130.30" cy="773.49" r="2.1" fill="#d41a24"/><circle cx="133.25" cy="773.49" r="2.1" fill="#d41a24"/><circle cx="136.20" cy="773.49" r="2.1" fill="#d41a24"/><circle cx="139.15" cy="773.49" r="2.1" fill="#d41a24"/><circle cx="142.10" cy="773.49" r="2.1" fill="#d41a24"/><circle cx="145.05" cy="773.49" r="2.1" fill="#d41a24"/><circle cx="148.00" cy="773.49" r="2.1" fill="#d41a24"/><circle cx="150.95" cy="773.49" r="2.1" fill="#d41a24"/><circle cx="153.90" cy="773.49" r="2.1" fill="#d41a24"/><circle cx="156.85" cy="773.49" r="2.1" fill="#d41a24"/><circle cx="159.80" cy="773.49" r="2.1" fill="#d41a24"/><circle cx="162.75" cy="773.49" r="2.1" fill="#d41a24"/><circle cx="165.70" cy="773.49" r="2.1" fill="#d41a24"/><circle cx="168.65" cy="773.78" r="2.1" fill="#d41a24"/><circle cx="171.60" cy="777.85" r="2.1" fill="#d41a24"/><circle cx="174.55" cy="786.03" r="2.1" fill="#d41a24"/><circle cx="177.50" cy="800.00" r="2.1" fill="#d41a24"/><circle cx="180.45" cy="820.23" r="2.1" fill="#d41a24"/><circle cx="183.40" cy="840.90" r="2.1" fill="#d41a24"/><circle cx="186.35" cy="856.14" r="2.1" fill="#d41a24"/><circle cx="189.30" cy="866.44" r="2.1" fill="#d41a24"/><circle cx="192.25" cy="874.03" r="2.1" fill="#d41a24"/><circle cx="195.20" cy="879.31" r="2.1" fill="#d41a24"/><circle cx="198.15" cy="883.39" r="2.1" fill="#d41a24"/><circle cx="201.10" cy="886.51" r="2.1" fill="#d41a24"/><circle cx="204.05" cy="889.04" r="2.1" fill="#d41a24"/><circle cx="207.00" cy="891.11" r="2.1" fill="#d41a24"/><circle cx="209.95" cy="892.57" r="2.1" fill="#d41a24"/><circle cx="212.90" cy="893.69" r="2.1" fill="#d41a24"/><circle cx="215.85" cy="894.70" r="2.1" fill="#d41a24"/><circle cx="218.80" cy="895.61" r="2.1" fill="#d41a24"/><circle cx="221.75" cy="896.40" r="2.1" fill="#d41a24"/><circle cx="224.70" cy="897.10" r="2.1" fill="#d41a24"/><circle cx="227.65" cy="897.70" r="2.1" fill="#d41a24"/><circle cx="230.60" cy="898.20" r="2.1" fill="#d41a24"/><circle cx="233.55" cy="898.61" r="2.1" fill="#d41a24"/><circle cx="236.50" cy="898.89" r="2.1" fill="#d41a24"/>
<path d="M118.50,766.08 L118.80,766.08 L119.09,766.08 L119.38,766.08 L119.68,766.08 L119.97,766.08 L120.27,766.08 L120.57,766.08 L120.86,766.08 L121.16,766.08 L121.45,766.08 L121.75,766.08 L122.04,766.08 L122.33,766.08 L122.63,766.08 L122.92,766.08 L123.22,766.08 L123.52,766.08 L123.81,766.08 L124.10,766.08 L124.40,766.08 L124.70,766.08 L124.99,766.08 L125.28,766.08 L125.58,766.08 L125.88,766.08 L126.17,766.08 L126.47,766.08 L126.76,766.08 L127.05,766.08 L127.35,766.08 L127.65,766.08 L127.94,766.08 L128.23,766.08 L128.53,766.08 L128.82,766.08 L129.12,766.08 L129.42,766.08 L129.71,766.08 L130.00,766.08 L130.30,766.08 L130.59,766.08 L130.89,766.08 L131.19,766.08 L131.48,766.08 L131.78,766.08 L132.07,766.08 L132.37,766.08 L132.66,766.08 L132.95,766.08 L133.25,766.08 L133.55,766.08 L133.84,766.08 L134.13,766.08 L134.43,766.08 L134.72,766.08 L135.02,766.08 L135.31,766.08 L135.61,766.08 L135.91,766.08 L136.20,766.08 L136.50,766.08 L136.79,766.08 L137.08,766.08 L137.38,766.08 L137.68,766.08 L137.97,766.08 L138.27,766.08 L138.56,766.08 L138.85,766.08 L139.15,766.08 L139.44,766.08 L139.74,766.08 L140.03,766.08 L140.33,766.08 L140.62,766.08 L140.92,766.08 L141.22,766.08 L141.51,766.08 L141.81,766.08 L142.10,766.08 L142.40,766.08 L142.69,766.08 L142.98,766.08 L143.28,766.08 L143.57,766.08 L143.87,766.08 L144.17,766.08 L144.46,766.08 L144.75,766.08 L145.05,766.08 L145.34,766.08 L145.64,766.08 L145.94,766.08 L146.23,766.08 L146.53,766.08 L146.82,766.08 L147.12,766.08 L147.41,766.08 L147.70,766.08 L148.00,766.08 L148.30,766.08 L148.59,766.08 L148.88,766.08 L149.18,766.08 L149.47,766.08 L149.77,766.08 L150.06,766.08 L150.36,766.08 L150.66,766.08 L150.95,766.08 L151.25,766.08 L151.54,766.08 L151.83,766.08 L152.13,766.08 L152.43,766.08 L152.72,766.08 L153.02,766.08 L153.31,766.08 L153.60,766.08 L153.90,766.08 L154.19,766.08 L154.49,766.08 L154.78,766.08 L155.08,766.08 L155.38,766.08 L155.67,766.08 L155.97,766.08 L156.26,766.08 L156.56,766.08 L156.85,766.08 L157.15,766.08 L157.44,766.08 L157.73,766.08 L158.03,766.08 L158.32,766.08 L158.62,766.08 L158.92,766.08 L159.21,766.08 L159.50,766.08 L159.80,766.08 L160.09,766.08 L160.39,766.08 L160.69,766.08 L160.98,766.08 L161.28,766.08 L161.57,766.08 L161.87,766.08 L162.16,766.08 L162.46,766.08 L162.75,766.08 L163.04,766.08 L163.34,766.08 L163.63,766.08 L163.93,766.08 L164.22,766.08 L164.52,766.08 L164.81,766.08 L165.11,766.08 L165.41,766.08 L165.70,766.08 L165.99,766.11 L166.29,766.20 L166.58,766.33 L166.88,766.51 L167.18,766.72 L167.47,766.96 L167.77,767.22 L168.06,767.56 L168.36,768.04 L168.65,768.66 L168.94,769.40 L169.24,770.25 L169.53,771.20 L169.83,772.25 L170.12,773.37 L170.42,774.57 L170.72,776.01 L171.01,777.96 L171.31,780.33 L171.60,782.98 L171.89,785.81 L172.19,788.68 L172.48,791.47 L172.78,794.06 L173.07,796.34 L173.37,798.44 L173.67,800.46 L173.96,802.42 L174.26,804.32 L174.55,806.18 L174.84,808.02 L175.14,809.84 L175.44,811.65 L175.73,813.47 L176.03,815.31 L176.32,817.17 L176.62,819.08 L176.91,821.05 L177.21,823.07 L177.50,825.12 L177.79,827.20 L178.09,829.28 L178.38,831.35 L178.68,833.39 L178.97,835.38 L179.27,837.31 L179.56,839.15 L179.86,840.90 L180.16,842.58 L180.45,844.20 L180.75,845.77 L181.04,847.31 L181.33,848.81 L181.63,850.28 L181.93,851.72 L182.22,853.15 L182.52,854.56 L182.81,855.96 L183.11,857.36 L183.40,858.78 L183.69,860.21 L183.99,861.64 L184.28,863.06 L184.58,864.45 L184.88,865.82 L185.17,867.15 L185.47,868.43 L185.76,869.65 L186.06,870.80 L186.35,871.87 L186.64,872.86 L186.94,873.79 L187.24,874.68 L187.53,875.54 L187.82,876.37 L188.12,877.16 L188.42,877.93 L188.71,878.67 L189.01,879.39 L189.30,880.09 L189.59,880.78 L189.89,881.44 L190.19,882.10 L190.48,882.74 L190.78,883.38 L191.07,884.01 L191.37,884.64 L191.66,885.27 L191.96,885.91 L192.25,886.55 L192.54,887.18 L192.84,887.81 L193.13,888.43 L193.43,889.04 L193.73,889.64 L194.02,890.22 L194.31,890.79 L194.61,891.35 L194.91,891.88 L195.20,892.39 L195.50,892.87 L195.79,893.33 L196.08,893.76 L196.38,894.16 L196.68,894.52 L196.97,894.85 L197.27,895.15 L197.56,895.42 L197.86,895.69 L198.15,895.96 L198.44,896.21 L198.74,896.46 L199.03,896.71 L199.33,896.95 L199.62,897.18 L199.92,897.41 L200.22,897.63 L200.51,897.84 L200.81,898.05 L201.10,898.25 L201.39,898.45 L201.69,898.64 L201.99,898.82 L202.28,899.00 L202.57,899.18 L202.87,899.34 L203.17,899.51 L203.46,899.66 L203.76,899.81 L204.05,899.96 L204.34,900.10 L204.64,900.24 L204.94,900.37 L205.23,900.49 L205.53,900.61 L205.82,900.73 L206.12,900.83 L206.41,900.94 L206.71,901.04 L207.00,901.13 L207.29,901.22 L207.59,901.31 L207.88,901.40 L208.18,901.49 L208.48,901.57 L208.77,901.66 L209.06,901.74 L209.36,901.82 L209.66,901.91 L209.95,901.99 L210.25,902.07 L210.54,902.15 L210.83,902.22 L211.13,902.30 L211.43,902.37 L211.72,902.45 L212.02,902.52 L212.31,902.60 L212.61,902.67 L212.90,902.74 L213.19,902.81 L213.49,902.88 L213.78,902.95 L214.08,903.01 L214.38,903.08 L214.67,903.15 L214.97,903.21 L215.26,903.27 L215.56,903.34 L215.85,903.40 L216.14,903.46 L216.44,903.52 L216.74,903.58 L217.03,903.64 L217.32,903.70 L217.62,903.76 L217.92,903.81 L218.21,903.87 L218.51,903.92 L218.80,903.98 L219.09,904.03 L219.39,904.09 L219.69,904.14 L219.98,904.19 L220.28,904.24 L220.57,904.29 L220.87,904.34 L221.16,904.39 L221.46,904.44 L221.75,904.49 L222.04,904.54 L222.34,904.58 L222.63,904.63 L222.93,904.67 L223.23,904.72 L223.52,904.76 L223.81,904.81 L224.11,904.85 L224.41,904.89 L224.70,904.94 L225.00,904.98 L225.29,905.02 L225.58,905.06 L225.88,905.10 L226.18,905.14 L226.47,905.18 L226.77,905.22 L227.06,905.26 L227.36,905.30 L227.65,905.34 L227.94,905.37 L228.24,905.41 L228.53,905.45 L228.83,905.48 L229.12,905.52 L229.42,905.56 L229.72,905.59 L230.01,905.63 L230.31,905.66 L230.60,905.70 L230.89,905.73 L231.19,905.76 L231.49,905.80 L231.78,905.83 L232.07,905.86 L232.37,905.90 L232.67,905.93 L232.96,905.96 L233.26,906.00 L233.55,906.03 L233.84,906.06 L234.14,906.09 L234.44,906.12 L234.73,906.15 L235.03,906.18 L235.32,906.20 L235.62,906.23 L235.91,906.25 L236.21,906.28 L236.50,906.30" fill="none" stroke="#2a14f0" stroke-width="2.8" stroke-linejoin="round" stroke-linecap="round" />
<path d="M118.50,763.57 L120.78,767.96 L116.22,767.96 Z" fill="#2a14f0"/><path d="M121.45,763.57 L123.73,767.96 L119.17,767.96 Z" fill="#2a14f0"/><path d="M124.40,763.57 L126.68,767.96 L122.12,767.96 Z" fill="#2a14f0"/><path d="M127.35,763.57 L129.63,767.96 L125.07,767.96 Z" fill="#2a14f0"/><path d="M130.30,763.57 L132.58,767.96 L128.02,767.96 Z" fill="#2a14f0"/><path d="M133.25,763.57 L135.53,767.96 L130.97,767.96 Z" fill="#2a14f0"/><path d="M136.20,763.57 L138.48,767.96 L133.92,767.96 Z" fill="#2a14f0"/><path d="M139.15,763.57 L141.43,767.96 L136.87,767.96 Z" fill="#2a14f0"/><path d="M142.10,763.57 L144.38,767.96 L139.82,767.96 Z" fill="#2a14f0"/><path d="M145.05,763.57 L147.33,767.96 L142.77,767.96 Z" fill="#2a14f0"/><path d="M148.00,763.57 L150.28,767.96 L145.72,767.96 Z" fill="#2a14f0"/><path d="M150.95,763.57 L153.23,767.96 L148.67,767.96 Z" fill="#2a14f0"/><path d="M153.90,763.57 L156.18,767.96 L151.62,767.96 Z" fill="#2a14f0"/><path d="M156.85,763.57 L159.13,767.96 L154.57,767.96 Z" fill="#2a14f0"/><path d="M159.80,763.57 L162.08,767.96 L157.52,767.96 Z" fill="#2a14f0"/><path d="M162.75,763.57 L165.03,767.96 L160.47,767.96 Z" fill="#2a14f0"/><path d="M165.70,763.57 L167.98,767.96 L163.42,767.96 Z" fill="#2a14f0"/><path d="M168.65,766.15 L170.93,770.54 L166.37,770.54 Z" fill="#2a14f0"/><path d="M171.60,780.48 L173.88,784.86 L169.32,784.86 Z" fill="#2a14f0"/><path d="M174.55,803.68 L176.83,808.07 L172.27,808.07 Z" fill="#2a14f0"/><path d="M177.50,822.62 L179.78,827.00 L175.22,827.00 Z" fill="#2a14f0"/><path d="M180.45,841.69 L182.73,846.08 L178.17,846.08 Z" fill="#2a14f0"/><path d="M183.40,856.28 L185.68,860.66 L181.12,860.66 Z" fill="#2a14f0"/><path d="M186.35,869.37 L188.63,873.75 L184.07,873.75 Z" fill="#2a14f0"/><path d="M189.30,877.59 L191.58,881.98 L187.02,881.98 Z" fill="#2a14f0"/><path d="M192.25,884.04 L194.53,888.43 L189.97,888.43 Z" fill="#2a14f0"/><path d="M195.20,889.88 L197.48,894.27 L192.92,894.27 Z" fill="#2a14f0"/><path d="M198.15,893.45 L200.43,897.84 L195.87,897.84 Z" fill="#2a14f0"/><path d="M201.10,895.74 L203.38,900.13 L198.82,900.13 Z" fill="#2a14f0"/><path d="M204.05,897.45 L206.33,901.84 L201.77,901.84 Z" fill="#2a14f0"/><path d="M207.00,898.63 L209.28,903.01 L204.72,903.01 Z" fill="#2a14f0"/><path d="M209.95,899.48 L212.23,903.87 L207.67,903.87 Z" fill="#2a14f0"/><path d="M212.90,900.23 L215.18,904.62 L210.62,904.62 Z" fill="#2a14f0"/><path d="M215.85,900.89 L218.13,905.28 L213.57,905.28 Z" fill="#2a14f0"/><path d="M218.80,901.47 L221.08,905.86 L216.52,905.86 Z" fill="#2a14f0"/><path d="M221.75,901.98 L224.03,906.37 L219.47,906.37 Z" fill="#2a14f0"/><path d="M224.70,902.43 L226.98,906.82 L222.42,906.82 Z" fill="#2a14f0"/><path d="M227.65,902.83 L229.93,907.22 L225.37,907.22 Z" fill="#2a14f0"/><path d="M230.60,903.19 L232.88,907.58 L228.32,907.58 Z" fill="#2a14f0"/><path d="M233.55,903.52 L235.83,907.91 L231.27,907.91 Z" fill="#2a14f0"/><path d="M236.50,903.79 L238.78,908.18 L234.22,908.18 Z" fill="#2a14f0"/>
<line x1="186.60" y1="771.90" x2="208.70" y2="771.90" stroke="#000" stroke-width="3.2" stroke-linecap="butt"/>
<rect x="195.30" y="769.60" width="4.6" height="4.6" fill="#000"/>
<text transform="translate(211.40,779.21) scale(1.074,1)" x="-0.74" font-size="18.52" fill="#000" >GO-PN1</text>
<line x1="186.60" y1="790.40" x2="208.70" y2="790.40" stroke="#d41a24" stroke-width="3.2" stroke-linecap="butt"/>
<circle cx="197.60" cy="790.40" r="2.5" fill="#d41a24"/>
<text transform="translate(211.40,797.51) scale(1.095,1)" x="-0.74" font-size="18.52" fill="#000" >GO-PN2</text>
<line x1="186.60" y1="808.10" x2="208.70" y2="808.10" stroke="#2a14f0" stroke-width="3.2" stroke-linecap="butt"/>
<path d="M197.60,805.06 L200.36,810.38 L194.84,810.38 Z" fill="#2a14f0"/>
<text transform="translate(211.40,815.75) scale(1.027,1)" x="-0.79" font-size="19.72" fill="#000" >GO-PN3</text>
<text transform="translate(311.40,249.10) scale(0.960,1)" x="-0.81" font-size="20.21" fill="#000" >G</text>
<rect x="439.6" y="237.1" width="196.0" height="188.4" fill="none" stroke="#000" stroke-width="3"/>
<line x1="435.30" y1="237.10" x2="439.60" y2="237.10" stroke="#000" stroke-width="2.6" stroke-linecap="butt"/>
<line x1="435.30" y1="284.00" x2="439.60" y2="284.00" stroke="#000" stroke-width="2.6" stroke-linecap="butt"/>
<line x1="435.30" y1="331.20" x2="439.60" y2="331.20" stroke="#000" stroke-width="2.6" stroke-linecap="butt"/>
<line x1="435.30" y1="378.20" x2="439.60" y2="378.20" stroke="#000" stroke-width="2.6" stroke-linecap="butt"/>
<line x1="435.30" y1="425.50" x2="439.60" y2="425.50" stroke="#000" stroke-width="2.6" stroke-linecap="butt"/>
<text x="391.74" y="252.89" font-size="23.2" fill="#000">400</text>
<text x="391.74" y="296.49" font-size="23.2" fill="#000">200</text>
<text x="417.55" y="342.09" font-size="23.2" fill="#000">0</text>
<text x="384.03" y="386.59" font-size="23.2" fill="#000">-200</text>
<text x="384.03" y="433.29" font-size="23.2" fill="#000">-400</text>
<line x1="448.70" y1="425.50" x2="448.70" y2="429.30" stroke="#000" stroke-width="2.4" stroke-linecap="butt"/>
<line x1="511.50" y1="425.50" x2="511.50" y2="429.30" stroke="#000" stroke-width="2.4" stroke-linecap="butt"/>
<line x1="574.30" y1="425.50" x2="574.30" y2="429.30" stroke="#000" stroke-width="2.4" stroke-linecap="butt"/>
<line x1="635.40" y1="425.50" x2="635.40" y2="429.30" stroke="#000" stroke-width="2.4" stroke-linecap="butt"/>
<text x="428.01" y="453.08" font-size="23.2" fill="#000">200</text>
<text x="486.91" y="453.08" font-size="23.2" fill="#000">220</text>
<text x="547.42" y="453.08" font-size="23.2" fill="#000">240</text>
<text x="606.82" y="453.08" font-size="23.2" fill="#000">260</text>
<text transform="translate(439.20,480.36) scale(1.043,1)" x="-0.00" font-size="22.29" fill="#000" >Wavelength (nm)</text>
<text transform="translate(495.80,275.48) scale(0.942,1)" x="-0.87" font-size="21.77" fill="#000" >GO</text>
<text transform="translate(348.60,333.00) rotate(-90)" text-anchor="middle" font-size="23.2">[θ]×10<tspan font-size="14" dy="-13.3">-3</tspan></text>
<text transform="translate(377.80,333.20) rotate(-90)" text-anchor="middle" font-size="23.2">(deg cm<tspan font-size="14" dy="-13.3">2</tspan><tspan dy="13.3"> dmol</tspan><tspan font-size="14" dy="-13.3">-1</tspan><tspan dy="13.3">)</tspan></text>
<path d="M439.70,346.70 L443.30,339.20 L446.30,387.50 L450.00,370.80 L455.80,383.30 L461.70,384.70 L468.30,390.00 L476.70,387.50 L486.70,382.50 L495.00,380.00 L501.70,378.30 L510.00,375.00 L518.30,368.30 L525.00,360.00 L530.00,352.50 L536.70,345.80 L545.00,342.50 L546.40,343.10 L559.10,343.10 L568.60,340.20 L582.20,335.10 L594.90,333.50 L613.20,333.50 L624.30,331.50 L635.50,333.50" fill="none" stroke="#000" stroke-width="2.9" stroke-linejoin="round" stroke-linecap="round" />
<rect x="437.4" y="496.4" width="188.10000000000002" height="180.70000000000005" fill="none" stroke="#000" stroke-width="3"/>
<line x1="433.10" y1="496.40" x2="437.40" y2="496.40" stroke="#000" stroke-width="2.6" stroke-linecap="butt"/>
<line x1="433.10" y1="541.60" x2="437.40" y2="541.60" stroke="#000" stroke-width="2.6" stroke-linecap="butt"/>
<line x1="433.10" y1="586.40" x2="437.40" y2="586.40" stroke="#000" stroke-width="2.6" stroke-linecap="butt"/>
<line x1="433.10" y1="631.20" x2="437.40" y2="631.20" stroke="#000" stroke-width="2.6" stroke-linecap="butt"/>
<line x1="433.10" y1="677.10" x2="437.40" y2="677.10" stroke="#000" stroke-width="2.6" stroke-linecap="butt"/>
<text x="391.74" y="505.69" font-size="23.2" fill="#000">400</text>
<text x="391.74" y="549.59" font-size="23.2" fill="#000">200</text>
<text x="417.55" y="595.09" font-size="23.2" fill="#000">0</text>
<text x="384.03" y="640.49" font-size="23.2" fill="#000">-200</text>
<text x="384.03" y="687.49" font-size="23.2" fill="#000">-400</text>
<line x1="447.40" y1="677.10" x2="447.40" y2="680.90" stroke="#000" stroke-width="2.4" stroke-linecap="butt"/>
<line x1="507.30" y1="677.10" x2="507.30" y2="680.90" stroke="#000" stroke-width="2.4" stroke-linecap="butt"/>
<line x1="566.50" y1="677.10" x2="566.50" y2="680.90" stroke="#000" stroke-width="2.4" stroke-linecap="butt"/>
<line x1="625.50" y1="677.10" x2="625.50" y2="680.90" stroke="#000" stroke-width="2.4" stroke-linecap="butt"/>
<text x="428.41" y="707.78" font-size="23.2" fill="#000">200</text>
<text x="488.01" y="707.78" font-size="23.2" fill="#000">220</text>
<text x="547.22" y="707.78" font-size="23.2" fill="#000">240</text>
<text x="604.92" y="707.78" font-size="23.2" fill="#000">260</text>
<text transform="translate(439.20,731.66) scale(1.043,1)" x="-0.00" font-size="22.29" fill="#000" >Wavelength (nm)</text>
<text transform="translate(495.90,528.58) scale(0.906,1)" x="-0.88" font-size="21.91" fill="#000" >GO-PN1</text>
<text transform="translate(348.60,585.60) rotate(-90)" text-anchor="middle" font-size="23.2">[θ]×10<tspan font-size="14" dy="-13.3">-3</tspan></text>
<text transform="translate(377.80,585.30) rotate(-90)" text-anchor="middle" font-size="23.2">(deg cm<tspan font-size="14" dy="-13.3">2</tspan><tspan dy="13.3"> dmol</tspan><tspan font-size="14" dy="-13.3">-1</tspan><tspan dy="13.3">)</tspan></text>
<path d="M437.50,563.00 L437.50,570.00 L438.00,616.70 L441.30,588.30 L445.00,615.00 L451.70,630.00 L454.20,636.70 L460.00,639.70 L462.50,642.20 L465.00,640.30 L470.00,641.30 L477.50,637.00 L485.00,635.80 L491.70,636.70 L495.80,634.20 L500.00,633.80 L506.70,627.50 L511.70,624.20 L516.70,617.50 L523.30,609.20 L535.00,599.70 L545.00,596.70 L548.30,598.00 L558.30,595.00 L570.00,591.30 L578.30,590.80 L585.00,588.70 L593.30,588.00 L598.30,588.70 L603.30,590.30 L611.70,589.70 L618.30,588.00 L625.00,586.30" fill="none" stroke="#d41a24" stroke-width="2.9" stroke-linejoin="round" stroke-linecap="round" />
<rect x="437.3" y="749.4" width="188.2" height="181.0" fill="none" stroke="#000" stroke-width="3"/>
<line x1="433.00" y1="749.40" x2="437.30" y2="749.40" stroke="#000" stroke-width="2.6" stroke-linecap="butt"/>
<line x1="433.00" y1="794.20" x2="437.30" y2="794.20" stroke="#000" stroke-width="2.6" stroke-linecap="butt"/>
<line x1="433.00" y1="839.20" x2="437.30" y2="839.20" stroke="#000" stroke-width="2.6" stroke-linecap="butt"/>
<line x1="433.00" y1="884.00" x2="437.30" y2="884.00" stroke="#000" stroke-width="2.6" stroke-linecap="butt"/>
<line x1="433.00" y1="929.40" x2="437.30" y2="929.40" stroke="#000" stroke-width="2.6" stroke-linecap="butt"/>
<text x="391.74" y="758.69" font-size="23.2" fill="#000">400</text>
<text x="391.74" y="803.09" font-size="23.2" fill="#000">200</text>
<text x="417.55" y="848.89" font-size="23.2" fill="#000">0</text>
<text x="384.03" y="893.59" font-size="23.2" fill="#000">-200</text>
<text x="384.03" y="939.09" font-size="23.2" fill="#000">-400</text>
<line x1="447.00" y1="930.40" x2="447.00" y2="934.20" stroke="#000" stroke-width="2.4" stroke-linecap="butt"/>
<line x1="506.70" y1="930.40" x2="506.70" y2="934.20" stroke="#000" stroke-width="2.4" stroke-linecap="butt"/>
<line x1="566.50" y1="930.40" x2="566.50" y2="934.20" stroke="#000" stroke-width="2.4" stroke-linecap="butt"/>
<line x1="625.50" y1="930.40" x2="625.50" y2="934.20" stroke="#000" stroke-width="2.4" stroke-linecap="butt"/>
<text x="428.41" y="961.48" font-size="23.2" fill="#000">200</text>
<text x="488.01" y="961.48" font-size="23.2" fill="#000">220</text>
<text x="547.22" y="961.48" font-size="23.2" fill="#000">240</text>
<text x="604.92" y="961.48" font-size="23.2" fill="#000">260</text>
<text transform="translate(439.20,984.16) scale(1.043,1)" x="-0.00" font-size="22.29" fill="#000" >Wavelength (nm)</text>
<text transform="translate(495.90,781.00) scale(0.997,1)" x="-0.81" font-size="20.35" fill="#000" >GO-PN2</text>
<text transform="translate(348.60,839.20) rotate(-90)" text-anchor="middle" font-size="23.2">[θ]×10<tspan font-size="14" dy="-13.3">-3</tspan></text>
<text transform="translate(377.80,838.40) rotate(-90)" text-anchor="middle" font-size="23.2">(deg cm<tspan font-size="14" dy="-13.3">2</tspan><tspan dy="13.3"> dmol</tspan><tspan font-size="14" dy="-13.3">-1</tspan><tspan dy="13.3">)</tspan></text>
<path d="M438.40,929.00 L438.60,798.00 L439.40,828.00 L441.20,847.20 L444.20,867.60 L447.20,880.80 L453.80,891.60 L465.00,897.50 L473.30,897.20 L480.00,895.00 L490.00,890.80 L496.70,887.50 L503.30,885.80 L510.00,880.00 L518.30,870.00 L525.80,859.20 L533.30,852.50 L540.00,849.20 L558.30,846.30 L565.00,844.20 L580.00,841.30 L590.00,841.20 L603.30,839.70 L615.00,840.50 L625.00,840.30" fill="none" stroke="#2a14f0" stroke-width="2.9" stroke-linejoin="round" stroke-linecap="round" />
<line x1="437.30" y1="845.00" x2="437.30" y2="929.50" stroke="#0a0630" stroke-width="3.0" stroke-linecap="butt"/>
<rect x="437.3" y="1011.4" width="188.2" height="179.39999999999998" fill="none" stroke="#000" stroke-width="3"/>
<line x1="433.00" y1="1011.40" x2="437.30" y2="1011.40" stroke="#000" stroke-width="2.6" stroke-linecap="butt"/>
<line x1="433.00" y1="1056.00" x2="437.30" y2="1056.00" stroke="#000" stroke-width="2.6" stroke-linecap="butt"/>
<line x1="433.00" y1="1101.20" x2="437.30" y2="1101.20" stroke="#000" stroke-width="2.6" stroke-linecap="butt"/>
<line x1="433.00" y1="1145.50" x2="437.30" y2="1145.50" stroke="#000" stroke-width="2.6" stroke-linecap="butt"/>
<line x1="433.00" y1="1190.80" x2="437.30" y2="1190.80" stroke="#000" stroke-width="2.6" stroke-linecap="butt"/>
<text x="391.74" y="1020.09" font-size="23.2" fill="#000">400</text>
<text x="391.74" y="1064.89" font-size="23.2" fill="#000">200</text>
<text x="417.55" y="1110.09" font-size="23.2" fill="#000">0</text>
<text x="384.03" y="1154.59" font-size="23.2" fill="#000">-200</text>
<text x="384.03" y="1199.59" font-size="23.2" fill="#000">-400</text>
<line x1="447.00" y1="1190.80" x2="447.00" y2="1194.60" stroke="#000" stroke-width="2.4" stroke-linecap="butt"/>
<line x1="506.70" y1="1190.80" x2="506.70" y2="1194.60" stroke="#000" stroke-width="2.4" stroke-linecap="butt"/>
<line x1="566.50" y1="1190.80" x2="566.50" y2="1194.60" stroke="#000" stroke-width="2.4" stroke-linecap="butt"/>
<line x1="625.50" y1="1190.80" x2="625.50" y2="1194.60" stroke="#000" stroke-width="2.4" stroke-linecap="butt"/>
<text x="428.41" y="1223.18" font-size="23.2" fill="#000">200</text>
<text x="488.01" y="1223.18" font-size="23.2" fill="#000">220</text>
<text x="547.22" y="1223.18" font-size="23.2" fill="#000">240</text>
<text x="604.92" y="1223.18" font-size="23.2" fill="#000">260</text>
<text transform="translate(439.20,1246.36) scale(1.043,1)" x="-0.00" font-size="22.29" fill="#000" >Wavelength (nm)</text>
<text transform="translate(495.90,1042.76) scale(1.034,1)" x="-0.78" font-size="19.58" fill="#000" >GO-PN3</text>
<text transform="translate(348.60,1101.00) rotate(-90)" text-anchor="middle" font-size="23.2">[θ]×10<tspan font-size="14" dy="-13.3">-3</tspan></text>
<text transform="translate(377.80,1101.00) rotate(-90)" text-anchor="middle" font-size="23.2">(deg cm<tspan font-size="14" dy="-13.3">2</tspan><tspan dy="13.3"> dmol</tspan><tspan font-size="14" dy="-13.3">-1</tspan><tspan dy="13.3">)</tspan></text>
<path d="M437.30,1055.00 L437.50,1080.00 L438.30,1103.30 L441.30,1120.00 L445.00,1120.00 L447.00,1144.20 L453.30,1151.70 L455.80,1150.00 L461.70,1155.30 L474.20,1157.00 L476.70,1155.80 L485.00,1153.30 L496.70,1150.00 L503.30,1146.30 L512.50,1140.00 L521.70,1129.20 L530.80,1118.30 L536.70,1115.00 L541.70,1113.00 L560.00,1109.20 L564.20,1109.70 L578.30,1104.20 L589.20,1101.70 L593.30,1103.30 L601.70,1102.50 L616.70,1101.30 L625.00,1101.70" fill="none" stroke="#c014f0" stroke-width="2.9" stroke-linejoin="round" stroke-linecap="round" />
<text transform="translate(3.40,1005.80) scale(0.936,1)" x="-1.36" font-size="20.22" fill="#000" >F</text>
<defs>
<linearGradient id="tube" x1="0" y1="0" x2="1" y2="0">
<stop offset="0" stop-color="#d8d8d8"/><stop offset="0.1" stop-color="#b8b8b8"/><stop offset="0.3" stop-color="#989898"/><stop offset="0.55" stop-color="#a2a2a2"/><stop offset="0.8" stop-color="#9a9a9a"/><stop offset="0.92" stop-color="#bcbcbc"/><stop offset="1" stop-color="#dcdcdc"/></linearGradient>
<linearGradient id="rim" x1="0" y1="0" x2="1" y2="0">
<stop offset="0" stop-color="#dcdcdc"/><stop offset="0.5" stop-color="#c6c6c6"/><stop offset="1" stop-color="#e2e2e2"/></linearGradient>
<linearGradient id="bgp" x1="0" y1="0" x2="1" y2="1">
<stop offset="0" stop-color="#1f1f1f"/><stop offset="1" stop-color="#2a2a2a"/></linearGradient>
<filter id="soft" x="-10%" y="-10%" width="120%" height="120%"><feGaussianBlur stdDeviation="0.5"/></filter>
</defs>
<rect x="32" y="1002.2" width="203.5" height="139.4" fill="url(#bgp)"/>
<g clip-path="url(#ph1)"><clipPath id="ph1"><rect x="32" y="1002.2" width="203.5" height="139.4"/></clipPath>
<g transform="translate(57.6,1022.2) rotate(-20.7)" filter="url(#soft)"><clipPath id="tc1"><path d="M-13.8,16.0 L-12.2,62.8 L-6.2,109.3 A6.2,6.2 0 0 0 6.2,109.3 L12.2,62.8 L13.8,16.0 Z"/></clipPath><path d="M-13.8,16.0 L-12.2,62.8 L-6.2,109.3 A6.2,6.2 0 0 0 6.2,109.3 L12.2,62.8 L13.8,16.0 Z" fill="url(#tube)"/><rect x="-15.8" y="63.6" width="31.5" height="54.0" fill="#fff" fill-opacity="0.07" clip-path="url(#tc1)"/><path d="M-12.2,59.6 Q0,69.6 12.2,59.6" stroke="#d8d8d8" stroke-width="1.4" fill="none" stroke-opacity="0.75"/><path d="M-15.2,6 L15.2,6 L14.2,17.0 Q0,20.0 -14.2,17.0 Z" fill="#c4c4c4"/><path d="M-13.8,11 Q0,14 13.8,11" stroke="#e0e0e0" stroke-width="1.2" fill="none" stroke-opacity="0.7"/><path d="M-20.8,6 L-21.2,1.5 Q0,-3.5 21.2,1.5 L20.8,6 Q0,10 -20.8,6 Z" fill="url(#rim)"/><ellipse cx="23.2" cy="4" rx="3.6" ry="2.8" fill="none" stroke="#d2d2d2" stroke-width="2.2"/></g>
<g transform="translate(103.0,1011.0) rotate(-5.4)" filter="url(#soft)"><clipPath id="tc2"><path d="M-13.8,16.0 L-12.2,65.2 L-6.2,114.5 A6.2,6.2 0 0 0 6.2,114.5 L12.2,65.2 L13.8,16.0 Z"/></clipPath><path d="M-13.8,16.0 L-12.2,65.2 L-6.2,114.5 A6.2,6.2 0 0 0 6.2,114.5 L12.2,65.2 L13.8,16.0 Z" fill="url(#tube)"/><rect x="-15.8" y="71.2" width="31.5" height="51.5" fill="#fff" fill-opacity="0.07" clip-path="url(#tc2)"/><path d="M-12.2,67.2 Q0,77.2 12.2,67.2" stroke="#d8d8d8" stroke-width="1.4" fill="none" stroke-opacity="0.75"/><path d="M-15.2,6 L15.2,6 L14.2,17.0 Q0,20.0 -14.2,17.0 Z" fill="#c4c4c4"/><path d="M-13.8,11 Q0,14 13.8,11" stroke="#e0e0e0" stroke-width="1.2" fill="none" stroke-opacity="0.7"/><path d="M-20.8,6 L-21.2,1.5 Q0,-3.5 21.2,1.5 L20.8,6 Q0,10 -20.8,6 Z" fill="url(#rim)"/><ellipse cx="23.2" cy="4" rx="3.6" ry="2.8" fill="none" stroke="#d2d2d2" stroke-width="2.2"/></g>
<g transform="translate(157.8,1014.5) rotate(12.7)" filter="url(#soft)"><clipPath id="tc3"><path d="M-13.8,16.0 L-12.2,63.7 L-6.2,111.2 A6.2,6.2 0 0 0 6.2,111.2 L12.2,63.7 L13.8,16.0 Z"/></clipPath><path d="M-13.8,16.0 L-12.2,63.7 L-6.2,111.2 A6.2,6.2 0 0 0 6.2,111.2 L12.2,63.7 L13.8,16.0 Z" fill="url(#tube)"/><rect x="-15.8" y="64.6" width="31.5" height="54.8" fill="#fff" fill-opacity="0.07" clip-path="url(#tc3)"/><path d="M-12.2,60.6 Q0,70.6 12.2,60.6" stroke="#d8d8d8" stroke-width="1.4" fill="none" stroke-opacity="0.75"/><path d="M-15.2,6 L15.2,6 L14.2,17.0 Q0,20.0 -14.2,17.0 Z" fill="#c4c4c4"/><path d="M-13.8,11 Q0,14 13.8,11" stroke="#e0e0e0" stroke-width="1.2" fill="none" stroke-opacity="0.7"/><path d="M-20.8,6 L-21.2,1.5 Q0,-3.5 21.2,1.5 L20.8,6 Q0,10 -20.8,6 Z" fill="url(#rim)"/><ellipse cx="23.2" cy="4" rx="3.6" ry="2.8" fill="none" stroke="#d2d2d2" stroke-width="2.2"/></g>
<g transform="translate(204.0,1030.0) rotate(29.6)" filter="url(#soft)"><clipPath id="tc4"><path d="M-13.8,16.0 L-12.2,63.8 L-6.2,111.5 A6.2,6.2 0 0 0 6.2,111.5 L12.2,63.8 L13.8,16.0 Z"/></clipPath><path d="M-13.8,16.0 L-12.2,63.8 L-6.2,111.5 A6.2,6.2 0 0 0 6.2,111.5 L12.2,63.8 L13.8,16.0 Z" fill="url(#tube)"/><rect x="-15.8" y="69.4" width="31.5" height="50.3" fill="#fff" fill-opacity="0.11" clip-path="url(#tc4)"/><path d="M-12.2,65.4 Q0,75.4 12.2,65.4" stroke="#d8d8d8" stroke-width="1.4" fill="none" stroke-opacity="0.75"/><path d="M-15.2,6 L15.2,6 L14.2,17.0 Q0,20.0 -14.2,17.0 Z" fill="#c4c4c4"/><path d="M-13.8,11 Q0,14 13.8,11" stroke="#e0e0e0" stroke-width="1.2" fill="none" stroke-opacity="0.7"/><path d="M-20.8,6 L-21.2,1.5 Q0,-3.5 21.2,1.5 L20.8,6 Q0,10 -20.8,6 Z" fill="url(#rim)"/><ellipse cx="23.2" cy="4" rx="3.6" ry="2.8" fill="none" stroke="#d2d2d2" stroke-width="2.2"/></g>
</g>
<text transform="translate(63.40,1074.50) scale(0.746,1)" x="-2.00" font-size="32.00" fill="#000" >1</text>
<text transform="translate(101.30,1074.80) scale(1.069,1)" x="-1.08" font-size="30.82" fill="#000" >2</text>
<text transform="translate(143.30,1074.52) scale(1.028,1)" x="-0.69" font-size="30.70" fill="#000" >3</text>
<text transform="translate(179.90,1074.90) scale(0.973,1)" x="-0.48" font-size="31.71" fill="#000" >4</text>
<text transform="translate(177.30,1135.68) scale(1.050,1)" x="-0.78" font-size="22.19" fill="#fff" style="stroke:#fff">25</text>
<circle cx="213.6" cy="1119.3" r="2.9" fill="none" stroke="#fff" stroke-width="1.5"/>
<text transform="translate(219.10,1135.68) scale(0.956,1)" x="-0.89" font-size="22.19" fill="#fff" style="stroke:#fff">C</text>
<rect x="32.1" y="1149.5" width="203.9" height="139" fill="url(#bgp)"/>
<g clip-path="url(#ph2)"><clipPath id="ph2"><rect x="32.1" y="1149.5" width="203.9" height="139"/></clipPath>
<g transform="translate(57.0,1175.5) rotate(-28.5)" filter="url(#soft)"><clipPath id="tc5"><path d="M-13.8,16.0 L-12.2,62.4 L-6.2,108.5 A6.2,6.2 0 0 0 6.2,108.5 L12.2,62.4 L13.8,16.0 Z"/></clipPath><path d="M-13.8,16.0 L-12.2,62.4 L-6.2,108.5 A6.2,6.2 0 0 0 6.2,108.5 L12.2,62.4 L13.8,16.0 Z" fill="url(#tube)"/><rect x="-15.8" y="73.4" width="31.5" height="43.3" fill="#fff" fill-opacity="0.07" clip-path="url(#tc5)"/><path d="M-12.2,69.4 Q0,79.4 12.2,69.4" stroke="#d8d8d8" stroke-width="1.4" fill="none" stroke-opacity="0.75"/><path d="M-15.2,6 L15.2,6 L14.2,17.0 Q0,20.0 -14.2,17.0 Z" fill="#c4c4c4"/><path d="M-13.8,11 Q0,14 13.8,11" stroke="#e0e0e0" stroke-width="1.2" fill="none" stroke-opacity="0.7"/><path d="M-20.8,6 L-21.2,1.5 Q0,-3.5 21.2,1.5 L20.8,6 Q0,10 -20.8,6 Z" fill="url(#rim)"/><ellipse cx="23.2" cy="4" rx="3.6" ry="2.8" fill="none" stroke="#d2d2d2" stroke-width="2.2"/></g>
<g transform="translate(107.0,1159.0) rotate(-7.8)" filter="url(#soft)"><clipPath id="tc6"><path d="M-13.8,16.0 L-12.2,64.9 L-6.2,113.8 A6.2,6.2 0 0 0 6.2,113.8 L12.2,64.9 L13.8,16.0 Z"/></clipPath><path d="M-13.8,16.0 L-12.2,64.9 L-6.2,113.8 A6.2,6.2 0 0 0 6.2,113.8 L12.2,64.9 L13.8,16.0 Z" fill="url(#tube)"/><rect x="-15.8" y="73.3" width="31.5" height="48.8" fill="#fff" fill-opacity="0.29" clip-path="url(#tc6)"/><path d="M-12.2,69.3 Q0,79.3 12.2,69.3" stroke="#d8d8d8" stroke-width="1.4" fill="none" stroke-opacity="0.75"/><path d="M-15.2,6 L15.2,6 L14.2,17.0 Q0,20.0 -14.2,17.0 Z" fill="#c4c4c4"/><path d="M-13.8,11 Q0,14 13.8,11" stroke="#e0e0e0" stroke-width="1.2" fill="none" stroke-opacity="0.7"/><path d="M-20.8,6 L-21.2,1.5 Q0,-3.5 21.2,1.5 L20.8,6 Q0,10 -20.8,6 Z" fill="url(#rim)"/><ellipse cx="23.2" cy="4" rx="3.6" ry="2.8" fill="none" stroke="#d2d2d2" stroke-width="2.2"/></g>
<g transform="translate(155.0,1164.0) rotate(6.6)" filter="url(#soft)"><clipPath id="tc7"><path d="M-13.8,16.0 L-12.2,63.6 L-6.2,111.0 A6.2,6.2 0 0 0 6.2,111.0 L12.2,63.6 L13.8,16.0 Z"/></clipPath><path d="M-13.8,16.0 L-12.2,63.6 L-6.2,111.0 A6.2,6.2 0 0 0 6.2,111.0 L12.2,63.6 L13.8,16.0 Z" fill="url(#tube)"/><rect x="-15.8" y="62.1" width="31.5" height="57.1" fill="#fff" fill-opacity="0.29" clip-path="url(#tc7)"/><path d="M-12.2,58.1 Q0,68.1 12.2,58.1" stroke="#d8d8d8" stroke-width="1.4" fill="none" stroke-opacity="0.75"/><path d="M-15.2,6 L15.2,6 L14.2,17.0 Q0,20.0 -14.2,17.0 Z" fill="#c4c4c4"/><path d="M-13.8,11 Q0,14 13.8,11" stroke="#e0e0e0" stroke-width="1.2" fill="none" stroke-opacity="0.7"/><path d="M-20.8,6 L-21.2,1.5 Q0,-3.5 21.2,1.5 L20.8,6 Q0,10 -20.8,6 Z" fill="url(#rim)"/><ellipse cx="23.2" cy="4" rx="3.6" ry="2.8" fill="none" stroke="#d2d2d2" stroke-width="2.2"/></g>
<g transform="translate(207.0,1180.0) rotate(26.7)" filter="url(#soft)"><clipPath id="tc8"><path d="M-13.8,16.0 L-12.2,62.2 L-6.2,108.2 A6.2,6.2 0 0 0 6.2,108.2 L12.2,62.2 L13.8,16.0 Z"/></clipPath><path d="M-13.8,16.0 L-12.2,62.2 L-6.2,108.2 A6.2,6.2 0 0 0 6.2,108.2 L12.2,62.2 L13.8,16.0 Z" fill="url(#tube)"/><rect x="-15.8" y="62.9" width="31.5" height="53.5" fill="#fff" fill-opacity="0.29" clip-path="url(#tc8)"/><path d="M-12.2,58.9 Q0,68.9 12.2,58.9" stroke="#d8d8d8" stroke-width="1.4" fill="none" stroke-opacity="0.75"/><path d="M-15.2,6 L15.2,6 L14.2,17.0 Q0,20.0 -14.2,17.0 Z" fill="#c4c4c4"/><path d="M-13.8,11 Q0,14 13.8,11" stroke="#e0e0e0" stroke-width="1.2" fill="none" stroke-opacity="0.7"/><path d="M-20.8,6 L-21.2,1.5 Q0,-3.5 21.2,1.5 L20.8,6 Q0,10 -20.8,6 Z" fill="url(#rim)"/><ellipse cx="23.2" cy="4" rx="3.6" ry="2.8" fill="none" stroke="#d2d2d2" stroke-width="2.2"/></g>
</g>
<text transform="translate(64.20,1225.30) scale(0.710,1)" x="-2.05" font-size="32.73" fill="#000" >1</text>
<text transform="translate(111.70,1225.30) scale(1.057,1)" x="-1.08" font-size="30.97" fill="#000" >2</text>
<text transform="translate(145.90,1223.43) scale(1.072,1)" x="-0.66" font-size="29.44" fill="#000" >3</text>
<text transform="translate(184.20,1223.80) scale(0.925,1)" x="-0.48" font-size="31.71" fill="#000" >4</text>
<text transform="translate(176.40,1284.51) scale(0.892,1)" x="-0.53" font-size="23.38" fill="#fff" style="stroke:#fff">37</text>
<circle cx="212" cy="1267.4" r="2.9" fill="none" stroke="#fff" stroke-width="1.5"/>
<text transform="translate(218.20,1284.57) scale(0.911,1)" x="-0.94" font-size="23.46" fill="#fff" style="stroke:#fff">C</text>
<text transform="translate(251.10,1212.48) scale(1.061,1)" x="-1.40" font-size="22.33" fill="#000" >1. GO</text>
<text transform="translate(251.10,1236.18) scale(1.052,1)" x="-0.77" font-size="21.91" fill="#000" >2. GO-PN1</text>
<text transform="translate(251.10,1260.61) scale(1.009,1)" x="-0.52" font-size="23.10" fill="#000" >3. GO-PN2</text>
<text transform="translate(251.10,1284.23) scale(1.066,1)" x="-0.33" font-size="21.83" fill="#000" >4. GO-PN3</text>
</svg></body></html>
